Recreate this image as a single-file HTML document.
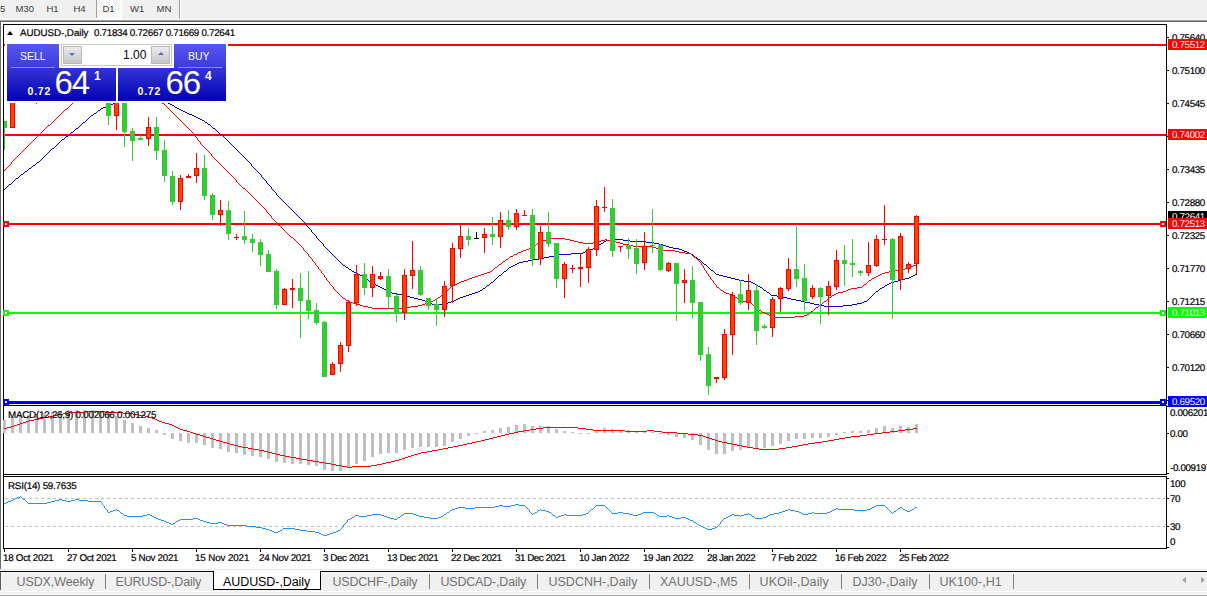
<!DOCTYPE html>
<html><head><meta charset="utf-8"><title>AUDUSD-,Daily</title>
<style>
html,body{margin:0;padding:0;}
body{width:1207px;height:596px;overflow:hidden;background:#fff;position:relative;font-family:"Liberation Sans",sans-serif;}
div{position:absolute;box-sizing:border-box;white-space:nowrap;}
.ax{font-size:9.8px;line-height:12px;height:12px;color:#000;-webkit-text-stroke:0.2px #000;letter-spacing:-0.35px;transform:rotate(0.03deg);transform-origin:0 9px;}
.tag{left:1168px;width:39px;color:#fff;font-size:9.8px;letter-spacing:-0.35px;}
.tag span{position:absolute;left:4px;top:0px;line-height:11px;transform:rotate(0.03deg);transform-origin:0 9px;}
.tbt{font-size:9.5px;color:#383838;top:1.7px;line-height:14px;letter-spacing:0px;}
.tab{top:575px;font-size:12.5px;line-height:15px;color:#707070;letter-spacing:-0.2px;}
.sep{top:574px;width:1px;height:15px;background:#808080;}
</style></head><body>
<!-- toolbar -->
<div style="left:0;top:0;width:1207px;height:19px;background:#f0f0f0"></div>
<div style="left:0;top:19px;width:1207px;height:1px;background:#fafafa"></div>
<div style="left:0;top:20px;width:1207px;height:1px;background:#a0a0a0"></div>
<div style="left:0;top:21px;width:1207px;height:1px;background:#696969"></div>
<div style="left:0;top:21px;width:1px;height:548px;background:#696969"></div>
<div style="left:96px;top:0;width:26px;height:19px;background:#fff"></div>
<div style="left:97px;top:0;width:24px;height:18px;background:repeating-conic-gradient(#fff 0% 25%, #f0f0f0 0% 50%) 0 0/2px 2px"></div>
<div style="left:96px;top:0;width:1px;height:18px;background:#a0a0a0"></div>
<div style="left:179px;top:0;width:1px;height:19px;background:#a0a0a0"></div>
<div style="left:180px;top:0;width:1px;height:19px;background:#fff"></div>
<div class="tbt" style="left:0px">5</div>
<div class="tbt" style="left:15.5px">M30</div>
<div class="tbt" style="left:46.5px">H1</div>
<div class="tbt" style="left:73.5px">H4</div>
<div class="tbt" style="left:102.5px">D1</div>
<div class="tbt" style="left:130px">W1</div>
<div class="tbt" style="left:156.5px">MN</div>
<svg width="1207" height="596" viewBox="0 0 1207 596" shape-rendering="crispEdges" style="position:absolute;left:0;top:0">
<g fill="#000">
<rect x="3" y="24" width="1164" height="1"/>
<rect x="3" y="24" width="1" height="525"/>
<rect x="1166" y="24" width="1" height="380"/>
<rect x="1166" y="405" width="1" height="70"/>
<rect x="1166" y="476" width="1" height="73"/>
<rect x="3" y="403" width="1164" height="1"/>
<rect x="3" y="405" width="1164" height="1"/>
<rect x="3" y="474" width="1164" height="1"/>
<rect x="3" y="476" width="1164" height="1"/>
<rect x="3" y="548" width="1164" height="1"/>
<rect x="1167" y="37" width="2" height="1"/>
<rect x="1167" y="70" width="2" height="1"/>
<rect x="1167" y="103" width="2" height="1"/>
<rect x="1167" y="136" width="2" height="1"/>
<rect x="1167" y="169" width="2" height="1"/>
<rect x="1167" y="202" width="2" height="1"/>
<rect x="1167" y="235" width="2" height="1"/>
<rect x="1167" y="268" width="2" height="1"/>
<rect x="1167" y="301" width="2" height="1"/>
<rect x="1167" y="334" width="2" height="1"/>
<rect x="1167" y="367" width="2" height="1"/>
<rect x="1167" y="400" width="2" height="1"/>
<rect x="1167" y="433" width="2" height="1"/>
<rect x="1167" y="406" width="2" height="1"/>
<rect x="1167" y="473" width="2" height="1"/>
<rect x="1167" y="478" width="2" height="1"/>
<rect x="1167" y="498" width="2" height="1"/>
<rect x="1167" y="526" width="2" height="1"/>
<rect x="1167" y="547" width="2" height="1"/>
<rect x="4" y="549" width="1" height="3"/>
<rect x="68" y="549" width="1" height="3"/>
<rect x="132" y="549" width="1" height="3"/>
<rect x="196" y="549" width="1" height="3"/>
<rect x="260" y="549" width="1" height="3"/>
<rect x="324" y="549" width="1" height="3"/>
<rect x="388" y="549" width="1" height="3"/>
<rect x="452" y="549" width="1" height="3"/>
<rect x="516" y="549" width="1" height="3"/>
<rect x="580" y="549" width="1" height="3"/>
<rect x="644" y="549" width="1" height="3"/>
<rect x="708" y="549" width="1" height="3"/>
<rect x="772" y="549" width="1" height="3"/>
<rect x="836" y="549" width="1" height="3"/>
<rect x="900" y="549" width="1" height="3"/>
</g>
<clipPath id="c1"><rect x="4" y="25" width="1162" height="378"/></clipPath>
<rect x="4" y="44" width="1162" height="2" fill="#ff0000"/>
<rect x="4" y="134" width="1162" height="2" fill="#ff0000"/>
<rect x="4" y="223" width="1162" height="2" fill="#ff0000"/><rect x="3" y="221" width="6" height="6" fill="#ff0000"/><rect x="5" y="223" width="2" height="2" fill="#fff"/><rect x="1160" y="221" width="6" height="6" fill="#ff0000"/><rect x="1162" y="223" width="2" height="2" fill="#fff"/>
<rect x="4" y="312" width="1162" height="2" fill="#00ff00"/><rect x="3" y="310" width="6" height="6" fill="#00ff00"/><rect x="5" y="312" width="2" height="2" fill="#fff"/><rect x="1160" y="310" width="6" height="6" fill="#00ff00"/><rect x="1162" y="312" width="2" height="2" fill="#fff"/>
<rect x="4" y="401" width="1162" height="2" fill="#0000ff"/><rect x="3" y="399" width="6" height="6" fill="#0000ff"/><rect x="5" y="401" width="2" height="2" fill="#fff"/><rect x="1160" y="399" width="6" height="6" fill="#0000ff"/><rect x="1162" y="401" width="2" height="2" fill="#fff"/>
<g clip-path="url(#c1)">
<path d="M4 189h1v1h-1zM5 188h1v1h-1zM6 187h1v1h-1zM7 186h1v1h-1zM8 185h1v1h-1zM9 184h1v1h-1zM10 184h1v1h-1zM11 183h1v1h-1zM12 182h1v1h-1zM13 181h1v1h-1zM14 180h1v1h-1zM15 179h1v1h-1zM16 178h1v1h-1zM17 178h1v1h-1zM18 177h1v1h-1zM19 176h1v1h-1zM20 175h1v1h-1zM21 174h1v1h-1zM22 174h1v1h-1zM23 173h1v1h-1zM24 172h1v1h-1zM25 171h1v1h-1zM26 171h1v1h-1zM27 170h1v1h-1zM28 169h1v1h-1zM29 168h1v1h-1zM30 168h1v1h-1zM31 167h1v1h-1zM32 166h1v1h-1zM33 165h1v1h-1zM34 165h1v1h-1zM35 164h1v1h-1zM36 163h1v1h-1zM37 162h1v1h-1zM38 162h1v1h-1zM39 161h1v1h-1zM40 160h1v1h-1zM41 159h1v1h-1zM42 158h1v1h-1zM43 157h1v1h-1zM44 156h1v1h-1zM45 155h1v1h-1zM46 154h1v1h-1zM47 153h1v1h-1zM48 152h1v1h-1zM49 151h1v1h-1zM50 150h1v1h-1zM51 149h1v1h-1zM52 148h1v1h-1zM53 148h1v1h-1zM54 147h1v1h-1zM55 146h1v1h-1zM56 145h1v1h-1zM57 144h1v1h-1zM58 143h1v1h-1zM59 142h1v1h-1zM60 141h1v1h-1zM61 140h1v1h-1zM62 139h1v1h-1zM63 139h1v1h-1zM64 138h1v1h-1zM65 137h1v1h-1zM66 136h1v1h-1zM67 136h1v1h-1zM68 135h1v1h-1zM69 134h1v1h-1zM70 133h1v1h-1zM71 132h1v1h-1zM72 132h1v1h-1zM73 131h1v1h-1zM74 130h1v1h-1zM75 129h1v1h-1zM76 128h1v1h-1zM77 128h1v1h-1zM78 127h1v1h-1zM79 126h1v1h-1zM80 125h1v1h-1zM81 124h1v1h-1zM82 123h1v1h-1zM83 122h1v1h-1zM84 122h1v1h-1zM85 121h1v1h-1zM86 120h1v1h-1zM87 119h1v1h-1zM88 118h1v1h-1zM89 117h1v1h-1zM90 116h1v1h-1zM91 115h1v1h-1zM92 115h1v1h-1zM93 114h1v1h-1zM94 113h1v1h-1zM95 113h1v1h-1zM96 112h1v1h-1zM97 111h1v1h-1zM98 110h1v1h-1zM99 110h1v1h-1zM100 109h1v1h-1zM101 108h1v1h-1zM102 108h1v1h-1zM103 107h1v1h-1zM104 107h1v1h-1zM105 107h1v1h-1zM106 106h1v1h-1zM107 106h1v1h-1zM108 105h1v1h-1zM109 105h1v1h-1zM110 104h1v1h-1zM111 104h1v1h-1zM112 104h1v1h-1zM113 103h1v1h-1zM114 102h1v1h-1zM115 102h1v1h-1zM116 101h1v1h-1zM117 101h1v1h-1zM118 100h1v1h-1zM119 99h1v1h-1zM120 99h1v1h-1zM121 98h1v1h-1zM122 98h1v1h-1zM123 97h1v1h-1zM124 96h1v1h-1zM125 96h1v1h-1zM126 96h1v1h-1zM127 96h1v1h-1zM128 95h1v1h-1zM129 95h1v1h-1zM130 95h1v1h-1zM131 95h1v1h-1zM132 94h1v1h-1zM133 94h1v1h-1zM134 94h1v1h-1zM135 94h1v1h-1zM136 94h1v1h-1zM137 94h1v1h-1zM138 93h1v1h-1zM139 93h1v1h-1zM140 93h1v1h-1zM141 93h1v1h-1zM142 93h1v1h-1zM143 94h1v1h-1zM144 94h1v1h-1zM145 94h1v1h-1zM146 94h1v1h-1zM147 94h1v1h-1zM148 94h1v1h-1zM149 95h1v1h-1zM150 95h1v1h-1zM151 95h1v1h-1zM152 95h1v1h-1zM153 96h1v1h-1zM154 96h1v1h-1zM155 96h1v1h-1zM156 96h1v1h-1zM157 97h1v1h-1zM158 97h1v1h-1zM159 98h1v1h-1zM160 98h1v1h-1zM161 99h1v1h-1zM162 100h1v1h-1zM163 100h1v1h-1zM164 101h1v1h-1zM165 101h1v1h-1zM166 102h1v1h-1zM167 102h1v1h-1zM168 103h1v1h-1zM169 103h1v1h-1zM170 104h1v1h-1zM171 104h1v1h-1zM172 105h1v1h-1zM173 105h1v1h-1zM174 106h1v1h-1zM175 107h1v1h-1zM176 107h1v1h-1zM177 108h1v1h-1zM178 108h1v1h-1zM179 109h1v1h-1zM180 109h1v1h-1zM181 110h1v1h-1zM182 110h1v1h-1zM183 111h1v1h-1zM184 111h1v1h-1zM185 112h1v1h-1zM186 112h1v1h-1zM187 113h1v1h-1zM188 113h1v1h-1zM189 114h1v1h-1zM190 114h1v1h-1zM191 114h1v1h-1zM192 115h1v1h-1zM193 115h1v1h-1zM194 116h1v1h-1zM195 116h1v1h-1zM196 117h1v1h-1zM197 117h1v1h-1zM198 118h1v1h-1zM199 118h1v1h-1zM200 119h1v1h-1zM201 119h1v1h-1zM202 120h1v1h-1zM203 120h1v1h-1zM204 121h1v1h-1zM205 122h1v1h-1zM206 122h1v1h-1zM207 123h1v1h-1zM208 124h1v1h-1zM209 124h1v1h-1zM210 125h1v1h-1zM211 126h1v1h-1zM212 127h1v1h-1zM213 128h1v1h-1zM214 128h1v1h-1zM215 129h1v1h-1zM216 130h1v1h-1zM217 131h1v1h-1zM218 132h1v1h-1zM219 133h1v1h-1zM220 134h1v1h-1zM221 134h1v1h-1zM222 135h1v1h-1zM223 136h1v1h-1zM224 137h1v1h-1zM225 138h1v1h-1zM226 139h1v1h-1zM227 140h1v1h-1zM228 141h1v1h-1zM229 142h1v1h-1zM230 143h1v1h-1zM231 144h1v1h-1zM232 145h1v1h-1zM233 146h1v1h-1zM234 147h1v1h-1zM235 148h1v1h-1zM236 149h1v1h-1zM237 150h1v1h-1zM238 151h1v1h-1zM239 152h1v1h-1zM240 153h1v1h-1zM241 154h1v1h-1zM242 155h1v1h-1zM243 156h1v1h-1zM244 157h1v1h-1zM245 158h1v1h-1zM246 159h1v1h-1zM247 160h1v1h-1zM248 161h1v1h-1zM249 162h1v1h-1zM250 163h1v1h-1zM251 164h1v2h-1zM252 166h1v1h-1zM253 167h1v1h-1zM254 168h1v1h-1zM255 169h1v1h-1zM256 170h1v1h-1zM257 171h1v1h-1zM258 172h1v1h-1zM259 173h1v1h-1zM260 174h1v1h-1zM261 175h1v2h-1zM262 177h1v1h-1zM263 178h1v1h-1zM264 179h1v1h-1zM265 180h1v1h-1zM266 181h1v2h-1zM267 183h1v1h-1zM268 184h1v1h-1zM269 185h1v1h-1zM270 186h1v1h-1zM271 187h1v2h-1zM272 189h1v1h-1zM273 190h1v1h-1zM274 191h1v1h-1zM275 192h1v1h-1zM276 193h1v2h-1zM277 195h1v1h-1zM278 196h1v1h-1zM279 197h1v1h-1zM280 198h1v1h-1zM281 199h1v1h-1zM282 200h1v1h-1zM283 201h1v1h-1zM284 202h1v1h-1zM285 203h1v1h-1zM286 204h1v1h-1zM287 205h1v1h-1zM288 206h1v1h-1zM289 207h1v1h-1zM290 208h1v1h-1zM291 209h1v1h-1zM292 210h1v1h-1zM293 211h1v1h-1zM294 212h1v1h-1zM295 213h1v1h-1zM296 214h1v1h-1zM297 215h1v1h-1zM298 216h1v1h-1zM299 217h1v1h-1zM300 218h1v1h-1zM301 219h1v1h-1zM302 220h1v1h-1zM303 221h1v1h-1zM304 222h1v1h-1zM305 223h1v2h-1zM306 225h1v1h-1zM307 226h1v1h-1zM308 227h1v1h-1zM309 228h1v1h-1zM310 229h1v1h-1zM311 230h1v2h-1zM312 232h1v1h-1zM313 233h1v1h-1zM314 234h1v1h-1zM315 235h1v1h-1zM316 236h1v2h-1zM317 238h1v1h-1zM318 239h1v1h-1zM319 240h1v1h-1zM320 241h1v1h-1zM321 242h1v1h-1zM322 243h1v1h-1zM323 244h1v2h-1zM324 246h1v1h-1zM325 247h1v1h-1zM326 248h1v1h-1zM327 249h1v1h-1zM328 250h1v1h-1zM329 251h1v1h-1zM330 252h1v1h-1zM331 253h1v1h-1zM332 254h1v1h-1zM333 255h1v1h-1zM334 256h1v1h-1zM335 257h1v1h-1zM336 258h1v1h-1zM337 259h1v1h-1zM338 260h1v1h-1zM339 261h1v1h-1zM340 262h1v1h-1zM341 263h1v1h-1zM342 264h1v1h-1zM343 265h1v1h-1zM344 265h1v1h-1zM345 266h1v1h-1zM346 267h1v1h-1zM347 267h1v1h-1zM348 268h1v1h-1zM349 269h1v1h-1zM350 269h1v1h-1zM351 270h1v1h-1zM352 271h1v1h-1zM353 271h1v1h-1zM354 272h1v1h-1zM355 272h1v1h-1zM356 273h1v1h-1zM357 273h1v1h-1zM358 274h1v1h-1zM359 274h1v1h-1zM360 275h1v1h-1zM361 275h1v1h-1zM362 276h1v1h-1zM363 276h1v1h-1zM364 277h1v1h-1zM365 278h1v1h-1zM366 279h1v1h-1zM367 279h1v1h-1zM368 280h1v1h-1zM369 281h1v1h-1zM370 281h1v1h-1zM371 282h1v1h-1zM372 283h1v1h-1zM373 283h1v1h-1zM374 284h1v1h-1zM375 284h1v1h-1zM376 285h1v1h-1zM377 285h1v1h-1zM378 286h1v1h-1zM379 286h1v1h-1zM380 287h1v1h-1zM381 287h1v1h-1zM382 288h1v1h-1zM383 288h1v1h-1zM384 289h1v1h-1zM385 289h1v1h-1zM386 290h1v1h-1zM387 290h1v1h-1zM388 291h1v1h-1zM389 291h1v1h-1zM390 292h1v1h-1zM391 292h1v1h-1zM392 293h1v1h-1zM393 293h1v1h-1zM394 293h1v1h-1zM395 293h1v1h-1zM396 293h1v1h-1zM397 294h1v1h-1zM398 294h1v1h-1zM399 294h1v1h-1zM400 294h1v1h-1zM401 294h1v1h-1zM402 295h1v1h-1zM403 295h1v1h-1zM404 295h1v1h-1zM405 295h1v1h-1zM406 296h1v1h-1zM407 296h1v1h-1zM408 296h1v1h-1zM409 296h1v1h-1zM410 297h1v1h-1zM411 297h1v1h-1zM412 297h1v1h-1zM413 297h1v1h-1zM414 298h1v1h-1zM415 298h1v1h-1zM416 298h1v1h-1zM417 298h1v1h-1zM418 299h1v1h-1zM419 299h1v1h-1zM420 299h1v1h-1zM421 299h1v1h-1zM422 300h1v1h-1zM423 300h1v1h-1zM424 300h1v1h-1zM425 301h1v1h-1zM426 301h1v1h-1zM427 302h1v1h-1zM428 302h1v1h-1zM429 302h1v1h-1zM430 303h1v1h-1zM431 303h1v1h-1zM432 304h1v1h-1zM433 304h1v1h-1zM434 304h1v1h-1zM435 304h1v1h-1zM436 304h1v1h-1zM437 304h1v1h-1zM438 304h1v1h-1zM439 304h1v1h-1zM440 304h1v1h-1zM441 304h1v1h-1zM442 304h1v1h-1zM443 304h1v1h-1zM444 303h1v1h-1zM445 303h1v1h-1zM446 303h1v1h-1zM447 303h1v1h-1zM448 302h1v1h-1zM449 302h1v1h-1zM450 302h1v1h-1zM451 301h1v1h-1zM452 301h1v1h-1zM453 301h1v1h-1zM454 300h1v1h-1zM455 300h1v1h-1zM456 299h1v1h-1zM457 299h1v1h-1zM458 298h1v1h-1zM459 298h1v1h-1zM460 297h1v1h-1zM461 297h1v1h-1zM462 297h1v1h-1zM463 296h1v1h-1zM464 296h1v1h-1zM465 296h1v1h-1zM466 295h1v1h-1zM467 295h1v1h-1zM468 295h1v1h-1zM469 294h1v1h-1zM470 294h1v1h-1zM471 294h1v1h-1zM472 293h1v1h-1zM473 293h1v1h-1zM474 293h1v1h-1zM475 292h1v1h-1zM476 292h1v1h-1zM477 292h1v1h-1zM478 291h1v1h-1zM479 291h1v1h-1zM480 290h1v1h-1zM481 290h1v1h-1zM482 289h1v1h-1zM483 288h1v1h-1zM484 288h1v1h-1zM485 287h1v1h-1zM486 286h1v1h-1zM487 285h1v1h-1zM488 285h1v1h-1zM489 284h1v1h-1zM490 283h1v1h-1zM491 282h1v1h-1zM492 282h1v1h-1zM493 281h1v1h-1zM494 280h1v1h-1zM495 279h1v1h-1zM496 278h1v1h-1zM497 277h1v1h-1zM498 276h1v1h-1zM499 275h1v1h-1zM500 275h1v1h-1zM501 274h1v1h-1zM502 273h1v1h-1zM503 272h1v1h-1zM504 271h1v1h-1zM505 271h1v1h-1zM506 270h1v1h-1zM507 269h1v1h-1zM508 268h1v1h-1zM509 267h1v1h-1zM510 267h1v1h-1zM511 266h1v1h-1zM512 266h1v1h-1zM513 265h1v1h-1zM514 265h1v1h-1zM515 264h1v1h-1zM516 264h1v1h-1zM517 263h1v1h-1zM518 263h1v1h-1zM519 262h1v1h-1zM520 262h1v1h-1zM521 262h1v1h-1zM522 262h1v1h-1zM523 261h1v1h-1zM524 261h1v1h-1zM525 261h1v1h-1zM526 261h1v1h-1zM527 261h1v1h-1zM528 260h1v1h-1zM529 260h1v1h-1zM530 260h1v1h-1zM531 260h1v1h-1zM532 260h1v1h-1zM533 259h1v1h-1zM534 259h1v1h-1zM535 259h1v1h-1zM536 259h1v1h-1zM537 259h1v1h-1zM538 259h1v1h-1zM539 258h1v1h-1zM540 258h1v1h-1zM541 258h1v1h-1zM542 258h1v1h-1zM543 258h1v1h-1zM544 257h1v1h-1zM545 257h1v1h-1zM546 257h1v1h-1zM547 257h1v1h-1zM548 257h1v1h-1zM549 256h1v1h-1zM550 256h1v1h-1zM551 256h1v1h-1zM552 256h1v1h-1zM553 256h1v1h-1zM554 255h1v1h-1zM555 255h1v1h-1zM556 255h1v1h-1zM557 255h1v1h-1zM558 255h1v1h-1zM559 254h1v1h-1zM560 254h1v1h-1zM561 254h1v1h-1zM562 254h1v1h-1zM563 254h1v1h-1zM564 254h1v1h-1zM565 254h1v1h-1zM566 254h1v1h-1zM567 254h1v1h-1zM568 254h1v1h-1zM569 254h1v1h-1zM570 254h1v1h-1zM571 253h1v1h-1zM572 253h1v1h-1zM573 253h1v1h-1zM574 253h1v1h-1zM575 253h1v1h-1zM576 253h1v1h-1zM577 253h1v1h-1zM578 253h1v1h-1zM579 253h1v1h-1zM580 253h1v1h-1zM581 253h1v1h-1zM582 253h1v1h-1zM583 252h1v1h-1zM584 252h1v1h-1zM585 251h1v1h-1zM586 251h1v1h-1zM587 251h1v1h-1zM588 250h1v1h-1zM589 250h1v1h-1zM590 250h1v1h-1zM591 249h1v1h-1zM592 249h1v1h-1zM593 248h1v1h-1zM594 247h1v1h-1zM595 247h1v1h-1zM596 246h1v1h-1zM597 246h1v1h-1zM598 245h1v1h-1zM599 244h1v1h-1zM600 244h1v1h-1zM601 243h1v1h-1zM602 243h1v1h-1zM603 242h1v1h-1zM604 241h1v1h-1zM605 241h1v1h-1zM606 240h1v1h-1zM607 240h1v1h-1zM608 240h1v1h-1zM609 240h1v1h-1zM610 240h1v1h-1zM611 240h1v1h-1zM612 240h1v1h-1zM613 240h1v1h-1zM614 239h1v1h-1zM615 239h1v1h-1zM616 239h1v1h-1zM617 239h1v1h-1zM618 239h1v1h-1zM619 239h1v1h-1zM620 239h1v1h-1zM621 239h1v1h-1zM622 239h1v1h-1zM623 240h1v1h-1zM624 240h1v1h-1zM625 240h1v1h-1zM626 240h1v1h-1zM627 240h1v1h-1zM628 240h1v1h-1zM629 240h1v1h-1zM630 241h1v1h-1zM631 241h1v1h-1zM632 241h1v1h-1zM633 241h1v1h-1zM634 241h1v1h-1zM635 241h1v1h-1zM636 241h1v1h-1zM637 241h1v1h-1zM638 241h1v1h-1zM639 241h1v1h-1zM640 241h1v1h-1zM641 241h1v1h-1zM642 241h1v1h-1zM643 241h1v1h-1zM644 241h1v1h-1zM645 241h1v1h-1zM646 242h1v1h-1zM647 242h1v1h-1zM648 242h1v1h-1zM649 242h1v1h-1zM650 242h1v1h-1zM651 242h1v1h-1zM652 242h1v1h-1zM653 242h1v1h-1zM654 243h1v1h-1zM655 243h1v1h-1zM656 243h1v1h-1zM657 243h1v1h-1zM658 243h1v1h-1zM659 244h1v1h-1zM660 244h1v1h-1zM661 244h1v1h-1zM662 244h1v1h-1zM663 245h1v1h-1zM664 245h1v1h-1zM665 245h1v1h-1zM666 246h1v1h-1zM667 246h1v1h-1zM668 246h1v1h-1zM669 247h1v1h-1zM670 247h1v1h-1zM671 247h1v1h-1zM672 247h1v1h-1zM673 248h1v1h-1zM674 248h1v1h-1zM675 248h1v1h-1zM676 248h1v1h-1zM677 248h1v1h-1zM678 248h1v1h-1zM679 249h1v1h-1zM680 249h1v1h-1zM681 249h1v1h-1zM682 250h1v1h-1zM683 250h1v1h-1zM684 251h1v1h-1zM685 251h1v1h-1zM686 251h1v1h-1zM687 252h1v1h-1zM688 252h1v1h-1zM689 253h1v1h-1zM690 253h1v1h-1zM691 254h1v1h-1zM692 254h1v1h-1zM693 255h1v1h-1zM694 256h1v1h-1zM695 257h1v1h-1zM696 257h1v1h-1zM697 258h1v1h-1zM698 259h1v1h-1zM699 259h1v1h-1zM700 260h1v1h-1zM701 261h1v1h-1zM702 262h1v1h-1zM703 263h1v1h-1zM704 264h1v1h-1zM705 264h1v1h-1zM706 265h1v1h-1zM707 266h1v1h-1zM708 267h1v1h-1zM709 268h1v1h-1zM710 269h1v1h-1zM711 270h1v1h-1zM712 270h1v1h-1zM713 271h1v1h-1zM714 272h1v1h-1zM715 273h1v1h-1zM716 274h1v1h-1zM717 274h1v1h-1zM718 274h1v1h-1zM719 275h1v1h-1zM720 275h1v1h-1zM721 275h1v1h-1zM722 275h1v1h-1zM723 276h1v1h-1zM724 276h1v1h-1zM725 276h1v1h-1zM726 276h1v1h-1zM727 277h1v1h-1zM728 277h1v1h-1zM729 277h1v1h-1zM730 277h1v1h-1zM731 278h1v1h-1zM732 278h1v1h-1zM733 278h1v1h-1zM734 278h1v1h-1zM735 279h1v1h-1zM736 279h1v1h-1zM737 279h1v1h-1zM738 279h1v1h-1zM739 280h1v1h-1zM740 280h1v1h-1zM741 280h1v1h-1zM742 280h1v1h-1zM743 280h1v1h-1zM744 281h1v1h-1zM745 281h1v1h-1zM746 281h1v1h-1zM747 281h1v1h-1zM748 281h1v1h-1zM749 281h1v1h-1zM750 281h1v1h-1zM751 282h1v1h-1zM752 282h1v1h-1zM753 283h1v1h-1zM754 283h1v1h-1zM755 284h1v1h-1zM756 285h1v1h-1zM757 285h1v1h-1zM758 286h1v1h-1zM759 286h1v1h-1zM760 287h1v1h-1zM761 287h1v1h-1zM762 288h1v1h-1zM763 289h1v1h-1zM764 290h1v1h-1zM765 290h1v1h-1zM766 291h1v1h-1zM767 292h1v1h-1zM768 292h1v1h-1zM769 293h1v1h-1zM770 294h1v1h-1zM771 295h1v1h-1zM772 295h1v1h-1zM773 295h1v1h-1zM774 295h1v1h-1zM775 295h1v1h-1zM776 295h1v1h-1zM777 296h1v1h-1zM778 296h1v1h-1zM779 296h1v1h-1zM780 296h1v1h-1zM781 296h1v1h-1zM782 296h1v1h-1zM783 297h1v1h-1zM784 297h1v1h-1zM785 297h1v1h-1zM786 297h1v1h-1zM787 298h1v1h-1zM788 298h1v1h-1zM789 298h1v1h-1zM790 298h1v1h-1zM791 299h1v1h-1zM792 299h1v1h-1zM793 299h1v1h-1zM794 299h1v1h-1zM795 299h1v1h-1zM796 300h1v1h-1zM797 300h1v1h-1zM798 300h1v1h-1zM799 300h1v1h-1zM800 300h1v1h-1zM801 301h1v1h-1zM802 301h1v1h-1zM803 301h1v1h-1zM804 301h1v1h-1zM805 302h1v1h-1zM806 302h1v1h-1zM807 302h1v1h-1zM808 302h1v1h-1zM809 302h1v1h-1zM810 303h1v1h-1zM811 303h1v1h-1zM812 303h1v1h-1zM813 303h1v1h-1zM814 304h1v1h-1zM815 304h1v1h-1zM816 304h1v1h-1zM817 304h1v1h-1zM818 304h1v1h-1zM819 305h1v1h-1zM820 305h1v1h-1zM821 305h1v1h-1zM822 305h1v1h-1zM823 305h1v1h-1zM824 306h1v1h-1zM825 306h1v1h-1zM826 306h1v1h-1zM827 306h1v1h-1zM828 306h1v1h-1zM829 306h1v1h-1zM830 306h1v1h-1zM831 306h1v1h-1zM832 306h1v1h-1zM833 306h1v1h-1zM834 306h1v1h-1zM835 306h1v1h-1zM836 306h1v1h-1zM837 306h1v1h-1zM838 306h1v1h-1zM839 306h1v1h-1zM840 306h1v1h-1zM841 306h1v1h-1zM842 306h1v1h-1zM843 305h1v1h-1zM844 305h1v1h-1zM845 305h1v1h-1zM846 305h1v1h-1zM847 305h1v1h-1zM848 305h1v1h-1zM849 305h1v1h-1zM850 305h1v1h-1zM851 305h1v1h-1zM852 304h1v1h-1zM853 304h1v1h-1zM854 304h1v1h-1zM855 304h1v1h-1zM856 304h1v1h-1zM857 303h1v1h-1zM858 303h1v1h-1zM859 303h1v1h-1zM860 303h1v1h-1zM861 303h1v1h-1zM862 302h1v1h-1zM863 302h1v1h-1zM864 301h1v1h-1zM865 301h1v1h-1zM866 301h1v1h-1zM867 300h1v1h-1zM868 299h1v1h-1zM869 298h1v1h-1zM870 297h1v1h-1zM871 296h1v1h-1zM872 295h1v1h-1zM873 294h1v1h-1zM874 293h1v1h-1zM875 292h1v1h-1zM876 291h1v1h-1zM877 291h1v1h-1zM878 290h1v1h-1zM879 289h1v1h-1zM880 288h1v1h-1zM881 288h1v1h-1zM882 287h1v1h-1zM883 287h1v1h-1zM884 286h1v1h-1zM885 285h1v1h-1zM886 285h1v1h-1zM887 284h1v1h-1zM888 284h1v1h-1zM889 283h1v1h-1zM890 283h1v1h-1zM891 282h1v1h-1zM892 282h1v1h-1zM893 282h1v1h-1zM894 281h1v1h-1zM895 281h1v1h-1zM896 281h1v1h-1zM897 281h1v1h-1zM898 280h1v1h-1zM899 280h1v1h-1zM900 280h1v1h-1zM901 279h1v1h-1zM902 279h1v1h-1zM903 279h1v1h-1zM904 279h1v1h-1zM905 278h1v1h-1zM906 278h1v1h-1zM907 278h1v1h-1zM908 278h1v1h-1zM909 277h1v1h-1zM910 277h1v1h-1zM911 276h1v1h-1zM912 276h1v1h-1zM913 275h1v1h-1zM914 275h1v1h-1zM915 274h1v1h-1zM916 274h1v1h-1z" fill="#0000cd"/>
<path d="M4 170h1v1h-1zM5 169h1v1h-1zM6 168h1v1h-1zM7 167h1v1h-1zM8 166h1v1h-1zM9 165h1v1h-1zM10 164h1v1h-1zM11 162h1v2h-1zM12 161h1v1h-1zM13 160h1v1h-1zM14 159h1v1h-1zM15 158h1v1h-1zM16 157h1v1h-1zM17 156h1v1h-1zM18 155h1v1h-1zM19 154h1v1h-1zM20 153h1v1h-1zM21 152h1v1h-1zM22 151h1v1h-1zM23 150h1v1h-1zM24 149h1v1h-1zM25 148h1v1h-1zM26 147h1v1h-1zM27 146h1v1h-1zM28 145h1v1h-1zM29 144h1v1h-1zM30 143h1v1h-1zM31 142h1v1h-1zM32 141h1v1h-1zM33 140h1v1h-1zM34 139h1v1h-1zM35 138h1v1h-1zM36 137h1v1h-1zM37 136h1v1h-1zM38 135h1v1h-1zM39 134h1v1h-1zM40 133h1v1h-1zM41 132h1v1h-1zM42 131h1v1h-1zM43 130h1v1h-1zM44 129h1v1h-1zM45 128h1v1h-1zM46 127h1v1h-1zM47 126h1v1h-1zM48 125h1v1h-1zM49 125h1v1h-1zM50 124h1v1h-1zM51 123h1v1h-1zM52 122h1v1h-1zM53 121h1v1h-1zM54 120h1v1h-1zM55 119h1v1h-1zM56 118h1v1h-1zM57 117h1v1h-1zM58 116h1v1h-1zM59 115h1v1h-1zM60 114h1v1h-1zM61 113h1v1h-1zM62 112h1v1h-1zM63 111h1v1h-1zM64 110h1v1h-1zM65 109h1v1h-1zM66 109h1v1h-1zM67 108h1v1h-1zM68 107h1v1h-1zM69 106h1v1h-1zM70 105h1v1h-1zM71 104h1v1h-1zM72 103h1v1h-1zM73 102h1v1h-1zM74 101h1v1h-1zM75 100h1v1h-1zM76 100h1v1h-1zM77 99h1v1h-1zM78 98h1v1h-1zM79 97h1v1h-1zM80 96h1v1h-1zM81 95h1v1h-1zM82 94h1v1h-1zM83 94h1v1h-1zM84 93h1v1h-1zM85 92h1v1h-1zM86 91h1v1h-1zM87 90h1v1h-1zM88 89h1v1h-1zM89 88h1v1h-1zM90 88h1v1h-1zM91 87h1v1h-1zM92 87h1v1h-1zM93 87h1v1h-1zM94 86h1v1h-1zM95 86h1v1h-1zM96 85h1v1h-1zM97 85h1v1h-1zM98 85h1v1h-1zM99 84h1v1h-1zM100 84h1v1h-1zM101 83h1v1h-1zM102 83h1v1h-1zM103 83h1v1h-1zM104 82h1v1h-1zM105 82h1v1h-1zM106 81h1v1h-1zM107 81h1v1h-1zM108 81h1v1h-1zM109 80h1v1h-1zM110 80h1v1h-1zM111 80h1v1h-1zM112 80h1v1h-1zM113 80h1v1h-1zM114 80h1v1h-1zM115 80h1v1h-1zM116 81h1v1h-1zM117 81h1v1h-1zM118 81h1v1h-1zM119 81h1v1h-1zM120 81h1v1h-1zM121 81h1v1h-1zM122 81h1v1h-1zM123 81h1v1h-1zM124 81h1v1h-1zM125 81h1v1h-1zM126 82h1v1h-1zM127 82h1v1h-1zM128 82h1v1h-1zM129 82h1v1h-1zM130 82h1v1h-1zM131 82h1v1h-1zM132 83h1v1h-1zM133 83h1v1h-1zM134 84h1v1h-1zM135 84h1v1h-1zM136 85h1v1h-1zM137 85h1v1h-1zM138 86h1v1h-1zM139 86h1v1h-1zM140 87h1v1h-1zM141 87h1v1h-1zM142 88h1v1h-1zM143 88h1v1h-1zM144 89h1v1h-1zM145 89h1v1h-1zM146 90h1v1h-1zM147 90h1v1h-1zM148 91h1v1h-1zM149 91h1v1h-1zM150 92h1v1h-1zM151 92h1v1h-1zM152 93h1v1h-1zM153 94h1v1h-1zM154 95h1v1h-1zM155 96h1v1h-1zM156 97h1v1h-1zM157 98h1v1h-1zM158 99h1v1h-1zM159 100h1v1h-1zM160 101h1v1h-1zM161 102h1v1h-1zM162 103h1v1h-1zM163 103h1v1h-1zM164 104h1v1h-1zM165 105h1v1h-1zM166 106h1v1h-1zM167 107h1v1h-1zM168 108h1v1h-1zM169 109h1v1h-1zM170 110h1v1h-1zM171 111h1v1h-1zM172 112h1v1h-1zM173 113h1v1h-1zM174 114h1v1h-1zM175 115h1v1h-1zM176 116h1v1h-1zM177 117h1v1h-1zM178 118h1v1h-1zM179 119h1v1h-1zM180 120h1v1h-1zM181 121h1v1h-1zM182 122h1v1h-1zM183 123h1v1h-1zM184 124h1v1h-1zM185 125h1v1h-1zM186 126h1v1h-1zM187 127h1v1h-1zM188 128h1v1h-1zM189 129h1v1h-1zM190 130h1v1h-1zM191 131h1v1h-1zM192 132h1v1h-1zM193 133h1v2h-1zM194 135h1v1h-1zM195 136h1v1h-1zM196 137h1v1h-1zM197 138h1v2h-1zM198 140h1v1h-1zM199 141h1v1h-1zM200 142h1v2h-1zM201 144h1v1h-1zM202 145h1v1h-1zM203 146h1v1h-1zM204 147h1v1h-1zM205 148h1v1h-1zM206 149h1v1h-1zM207 150h1v1h-1zM208 151h1v1h-1zM209 152h1v1h-1zM210 153h1v1h-1zM211 154h1v2h-1zM212 156h1v1h-1zM213 157h1v1h-1zM214 158h1v1h-1zM215 159h1v1h-1zM216 160h1v1h-1zM217 161h1v1h-1zM218 162h1v1h-1zM219 163h1v1h-1zM220 164h1v1h-1zM221 165h1v1h-1zM222 166h1v1h-1zM223 167h1v1h-1zM224 168h1v1h-1zM225 169h1v1h-1zM226 170h1v1h-1zM227 171h1v1h-1zM228 172h1v1h-1zM229 173h1v1h-1zM230 174h1v1h-1zM231 175h1v1h-1zM232 176h1v1h-1zM233 177h1v1h-1zM234 178h1v1h-1zM235 179h1v1h-1zM236 180h1v2h-1zM237 182h1v1h-1zM238 183h1v1h-1zM239 184h1v1h-1zM240 185h1v1h-1zM241 186h1v1h-1zM242 187h1v1h-1zM243 188h1v1h-1zM244 188h1v1h-1zM245 189h1v1h-1zM246 190h1v1h-1zM247 191h1v1h-1zM248 192h1v1h-1zM249 193h1v1h-1zM250 194h1v1h-1zM251 195h1v1h-1zM252 196h1v1h-1zM253 197h1v1h-1zM254 198h1v1h-1zM255 199h1v1h-1zM256 200h1v1h-1zM257 201h1v1h-1zM258 202h1v1h-1zM259 203h1v1h-1zM260 204h1v1h-1zM261 205h1v1h-1zM262 206h1v1h-1zM263 207h1v1h-1zM264 208h1v1h-1zM265 209h1v1h-1zM266 210h1v2h-1zM267 212h1v1h-1zM268 213h1v1h-1zM269 214h1v1h-1zM270 215h1v1h-1zM271 216h1v2h-1zM272 218h1v1h-1zM273 219h1v1h-1zM274 220h1v1h-1zM275 221h1v1h-1zM276 222h1v2h-1zM277 224h1v1h-1zM278 225h1v1h-1zM279 225h1v1h-1zM280 226h1v1h-1zM281 227h1v1h-1zM282 228h1v1h-1zM283 229h1v1h-1zM284 230h1v1h-1zM285 231h1v1h-1zM286 232h1v1h-1zM287 233h1v1h-1zM288 234h1v1h-1zM289 235h1v1h-1zM290 236h1v1h-1zM291 237h1v1h-1zM292 237h1v1h-1zM293 238h1v1h-1zM294 239h1v1h-1zM295 240h1v1h-1zM296 241h1v1h-1zM297 242h1v1h-1zM298 243h1v1h-1zM299 244h1v1h-1zM300 245h1v1h-1zM301 246h1v1h-1zM302 247h1v1h-1zM303 248h1v2h-1zM304 250h1v1h-1zM305 251h1v1h-1zM306 252h1v1h-1zM307 253h1v1h-1zM308 254h1v2h-1zM309 256h1v1h-1zM310 257h1v1h-1zM311 258h1v1h-1zM312 259h1v2h-1zM313 261h1v1h-1zM314 262h1v1h-1zM315 263h1v2h-1zM316 265h1v1h-1zM317 266h1v1h-1zM318 267h1v2h-1zM319 269h1v1h-1zM320 270h1v1h-1zM321 271h1v2h-1zM322 273h1v1h-1zM323 274h1v1h-1zM324 275h1v2h-1zM325 277h1v1h-1zM326 278h1v2h-1zM327 280h1v1h-1zM328 281h1v1h-1zM329 282h1v2h-1zM330 284h1v1h-1zM331 285h1v1h-1zM332 286h1v1h-1zM333 287h1v2h-1zM334 289h1v1h-1zM335 290h1v1h-1zM336 291h1v1h-1zM337 292h1v1h-1zM338 293h1v1h-1zM339 294h1v1h-1zM340 295h1v1h-1zM341 296h1v1h-1zM342 297h1v1h-1zM343 298h1v1h-1zM344 298h1v1h-1zM345 299h1v1h-1zM346 300h1v1h-1zM347 300h1v1h-1zM348 301h1v1h-1zM349 301h1v1h-1zM350 302h1v1h-1zM351 302h1v1h-1zM352 302h1v1h-1zM353 303h1v1h-1zM354 303h1v1h-1zM355 303h1v1h-1zM356 304h1v1h-1zM357 304h1v1h-1zM358 304h1v1h-1zM359 304h1v1h-1zM360 305h1v1h-1zM361 305h1v1h-1zM362 305h1v1h-1zM363 306h1v1h-1zM364 306h1v1h-1zM365 306h1v1h-1zM366 306h1v1h-1zM367 306h1v1h-1zM368 307h1v1h-1zM369 307h1v1h-1zM370 307h1v1h-1zM371 307h1v1h-1zM372 308h1v1h-1zM373 308h1v1h-1zM374 308h1v1h-1zM375 308h1v1h-1zM376 308h1v1h-1zM377 308h1v1h-1zM378 308h1v1h-1zM379 308h1v1h-1zM380 308h1v1h-1zM381 308h1v1h-1zM382 308h1v1h-1zM383 308h1v1h-1zM384 308h1v1h-1zM385 308h1v1h-1zM386 308h1v1h-1zM387 308h1v1h-1zM388 308h1v1h-1zM389 308h1v1h-1zM390 308h1v1h-1zM391 308h1v1h-1zM392 308h1v1h-1zM393 308h1v1h-1zM394 308h1v1h-1zM395 308h1v1h-1zM396 308h1v1h-1zM397 308h1v1h-1zM398 308h1v1h-1zM399 308h1v1h-1zM400 308h1v1h-1zM401 308h1v1h-1zM402 308h1v1h-1zM403 308h1v1h-1zM404 308h1v1h-1zM405 308h1v1h-1zM406 307h1v1h-1zM407 307h1v1h-1zM408 307h1v1h-1zM409 307h1v1h-1zM410 307h1v1h-1zM411 306h1v1h-1zM412 306h1v1h-1zM413 306h1v1h-1zM414 306h1v1h-1zM415 306h1v1h-1zM416 306h1v1h-1zM417 306h1v1h-1zM418 305h1v1h-1zM419 305h1v1h-1zM420 305h1v1h-1zM421 305h1v1h-1zM422 304h1v1h-1zM423 304h1v1h-1zM424 304h1v1h-1zM425 303h1v1h-1zM426 303h1v1h-1zM427 303h1v1h-1zM428 302h1v1h-1zM429 302h1v1h-1zM430 302h1v1h-1zM431 301h1v1h-1zM432 301h1v1h-1zM433 300h1v1h-1zM434 300h1v1h-1zM435 299h1v1h-1zM436 298h1v1h-1zM437 298h1v1h-1zM438 297h1v1h-1zM439 297h1v1h-1zM440 296h1v1h-1zM441 295h1v1h-1zM442 294h1v1h-1zM443 294h1v1h-1zM444 293h1v1h-1zM445 292h1v1h-1zM446 291h1v1h-1zM447 290h1v1h-1zM448 289h1v1h-1zM449 288h1v1h-1zM450 287h1v1h-1zM451 286h1v1h-1zM452 286h1v1h-1zM453 285h1v1h-1zM454 285h1v1h-1zM455 284h1v1h-1zM456 284h1v1h-1zM457 283h1v1h-1zM458 283h1v1h-1zM459 282h1v1h-1zM460 282h1v1h-1zM461 281h1v1h-1zM462 281h1v1h-1zM463 281h1v1h-1zM464 280h1v1h-1zM465 280h1v1h-1zM466 280h1v1h-1zM467 279h1v1h-1zM468 279h1v1h-1zM469 278h1v1h-1zM470 278h1v1h-1zM471 278h1v1h-1zM472 277h1v1h-1zM473 277h1v1h-1zM474 277h1v1h-1zM475 276h1v1h-1zM476 276h1v1h-1zM477 276h1v1h-1zM478 275h1v1h-1zM479 275h1v1h-1zM480 275h1v1h-1zM481 274h1v1h-1zM482 274h1v1h-1zM483 274h1v1h-1zM484 273h1v1h-1zM485 273h1v1h-1zM486 273h1v1h-1zM487 272h1v1h-1zM488 272h1v1h-1zM489 272h1v1h-1zM490 271h1v1h-1zM491 271h1v1h-1zM492 270h1v1h-1zM493 269h1v1h-1zM494 268h1v1h-1zM495 267h1v1h-1zM496 267h1v1h-1zM497 266h1v1h-1zM498 265h1v1h-1zM499 264h1v1h-1zM500 264h1v1h-1zM501 263h1v1h-1zM502 262h1v1h-1zM503 261h1v1h-1zM504 261h1v1h-1zM505 260h1v1h-1zM506 259h1v1h-1zM507 259h1v1h-1zM508 258h1v1h-1zM509 257h1v1h-1zM510 256h1v1h-1zM511 256h1v1h-1zM512 256h1v1h-1zM513 255h1v1h-1zM514 254h1v1h-1zM515 254h1v1h-1zM516 254h1v1h-1zM517 253h1v1h-1zM518 252h1v1h-1zM519 252h1v1h-1zM520 252h1v1h-1zM521 251h1v1h-1zM522 251h1v1h-1zM523 250h1v1h-1zM524 250h1v1h-1zM525 250h1v1h-1zM526 249h1v1h-1zM527 249h1v1h-1zM528 249h1v1h-1zM529 248h1v1h-1zM530 248h1v1h-1zM531 247h1v1h-1zM532 247h1v1h-1zM533 246h1v1h-1zM534 245h1v1h-1zM535 245h1v1h-1zM536 244h1v1h-1zM537 243h1v1h-1zM538 243h1v1h-1zM539 242h1v1h-1zM540 242h1v1h-1zM541 241h1v1h-1zM542 241h1v1h-1zM543 240h1v1h-1zM544 240h1v1h-1zM545 240h1v1h-1zM546 239h1v1h-1zM547 239h1v1h-1zM548 239h1v1h-1zM549 238h1v1h-1zM550 238h1v1h-1zM551 238h1v1h-1zM552 238h1v1h-1zM553 238h1v1h-1zM554 238h1v1h-1zM555 238h1v1h-1zM556 238h1v1h-1zM557 238h1v1h-1zM558 238h1v1h-1zM559 238h1v1h-1zM560 238h1v1h-1zM561 238h1v1h-1zM562 238h1v1h-1zM563 238h1v1h-1zM564 238h1v1h-1zM565 239h1v1h-1zM566 239h1v1h-1zM567 239h1v1h-1zM568 239h1v1h-1zM569 239h1v1h-1zM570 240h1v1h-1zM571 240h1v1h-1zM572 240h1v1h-1zM573 240h1v1h-1zM574 241h1v1h-1zM575 241h1v1h-1zM576 241h1v1h-1zM577 241h1v1h-1zM578 242h1v1h-1zM579 242h1v1h-1zM580 242h1v1h-1zM581 242h1v1h-1zM582 242h1v1h-1zM583 243h1v1h-1zM584 243h1v1h-1zM585 243h1v1h-1zM586 243h1v1h-1zM587 243h1v1h-1zM588 243h1v1h-1zM589 243h1v1h-1zM590 243h1v1h-1zM591 243h1v1h-1zM592 243h1v1h-1zM593 242h1v1h-1zM594 242h1v1h-1zM595 242h1v1h-1zM596 242h1v1h-1zM597 241h1v1h-1zM598 241h1v1h-1zM599 241h1v1h-1zM600 241h1v1h-1zM601 240h1v1h-1zM602 240h1v1h-1zM603 240h1v1h-1zM604 240h1v1h-1zM605 239h1v1h-1zM606 239h1v1h-1zM607 240h1v1h-1zM608 240h1v1h-1zM609 240h1v1h-1zM610 240h1v1h-1zM611 240h1v1h-1zM612 241h1v1h-1zM613 241h1v1h-1zM614 241h1v1h-1zM615 241h1v1h-1zM616 242h1v1h-1zM617 242h1v1h-1zM618 242h1v1h-1zM619 242h1v1h-1zM620 243h1v1h-1zM621 243h1v1h-1zM622 243h1v1h-1zM623 244h1v1h-1zM624 244h1v1h-1zM625 244h1v1h-1zM626 244h1v1h-1zM627 244h1v1h-1zM628 245h1v1h-1zM629 245h1v1h-1zM630 245h1v1h-1zM631 245h1v1h-1zM632 245h1v1h-1zM633 246h1v1h-1zM634 246h1v1h-1zM635 246h1v1h-1zM636 246h1v1h-1zM637 246h1v1h-1zM638 246h1v1h-1zM639 246h1v1h-1zM640 246h1v1h-1zM641 246h1v1h-1zM642 246h1v1h-1zM643 246h1v1h-1zM644 246h1v1h-1zM645 246h1v1h-1zM646 246h1v1h-1zM647 246h1v1h-1zM648 246h1v1h-1zM649 246h1v1h-1zM650 246h1v1h-1zM651 246h1v1h-1zM652 246h1v1h-1zM653 247h1v1h-1zM654 247h1v1h-1zM655 247h1v1h-1zM656 248h1v1h-1zM657 248h1v1h-1zM658 248h1v1h-1zM659 249h1v1h-1zM660 249h1v1h-1zM661 249h1v1h-1zM662 250h1v1h-1zM663 250h1v1h-1zM664 250h1v1h-1zM665 250h1v1h-1zM666 250h1v1h-1zM667 250h1v1h-1zM668 250h1v1h-1zM669 250h1v1h-1zM670 250h1v1h-1zM671 250h1v1h-1zM672 250h1v1h-1zM673 250h1v1h-1zM674 250h1v1h-1zM675 251h1v1h-1zM676 251h1v1h-1zM677 251h1v1h-1zM678 251h1v1h-1zM679 252h1v1h-1zM680 252h1v1h-1zM681 252h1v1h-1zM682 252h1v1h-1zM683 252h1v1h-1zM684 252h1v1h-1zM685 253h1v1h-1zM686 253h1v1h-1zM687 253h1v1h-1zM688 253h1v1h-1zM689 253h1v1h-1zM690 253h1v1h-1zM691 254h1v1h-1zM692 255h1v1h-1zM693 256h1v1h-1zM694 257h1v1h-1zM695 257h1v1h-1zM696 258h1v1h-1zM697 259h1v1h-1zM698 260h1v1h-1zM699 261h1v1h-1zM700 262h1v1h-1zM701 263h1v2h-1zM702 265h1v1h-1zM703 266h1v2h-1zM704 268h1v2h-1zM705 270h1v1h-1zM706 271h1v2h-1zM707 273h1v1h-1zM708 274h1v2h-1zM709 276h1v1h-1zM710 277h1v2h-1zM711 279h1v1h-1zM712 280h1v1h-1zM713 281h1v2h-1zM714 283h1v1h-1zM715 284h1v1h-1zM716 285h1v2h-1zM717 287h1v1h-1zM718 287h1v1h-1zM719 288h1v1h-1zM720 289h1v1h-1zM721 290h1v1h-1zM722 290h1v1h-1zM723 291h1v1h-1zM724 292h1v1h-1zM725 292h1v1h-1zM726 293h1v1h-1zM727 293h1v1h-1zM728 293h1v1h-1zM729 294h1v1h-1zM730 294h1v1h-1zM731 294h1v1h-1zM732 295h1v1h-1zM733 296h1v1h-1zM734 296h1v1h-1zM735 297h1v1h-1zM736 297h1v1h-1zM737 298h1v1h-1zM738 298h1v1h-1zM739 299h1v1h-1zM740 300h1v1h-1zM741 300h1v1h-1zM742 300h1v1h-1zM743 301h1v1h-1zM744 301h1v1h-1zM745 301h1v1h-1zM746 301h1v1h-1zM747 301h1v1h-1zM748 301h1v1h-1zM749 302h1v1h-1zM750 302h1v1h-1zM751 303h1v1h-1zM752 304h1v1h-1zM753 305h1v1h-1zM754 306h1v1h-1zM755 306h1v1h-1zM756 307h1v1h-1zM757 308h1v1h-1zM758 309h1v1h-1zM759 310h1v1h-1zM760 310h1v1h-1zM761 311h1v1h-1zM762 312h1v1h-1zM763 312h1v1h-1zM764 312h1v1h-1zM765 313h1v1h-1zM766 313h1v1h-1zM767 314h1v1h-1zM768 314h1v1h-1zM769 315h1v1h-1zM770 315h1v1h-1zM771 315h1v1h-1zM772 316h1v1h-1zM773 316h1v1h-1zM774 316h1v1h-1zM775 317h1v1h-1zM776 317h1v1h-1zM777 317h1v1h-1zM778 317h1v1h-1zM779 317h1v1h-1zM780 317h1v1h-1zM781 317h1v1h-1zM782 317h1v1h-1zM783 317h1v1h-1zM784 317h1v1h-1zM785 317h1v1h-1zM786 317h1v1h-1zM787 317h1v1h-1zM788 317h1v1h-1zM789 317h1v1h-1zM790 317h1v1h-1zM791 317h1v1h-1zM792 317h1v1h-1zM793 317h1v1h-1zM794 317h1v1h-1zM795 316h1v1h-1zM796 316h1v1h-1zM797 316h1v1h-1zM798 316h1v1h-1zM799 316h1v1h-1zM800 316h1v1h-1zM801 316h1v1h-1zM802 316h1v1h-1zM803 316h1v1h-1zM804 315h1v1h-1zM805 315h1v1h-1zM806 315h1v1h-1zM807 314h1v1h-1zM808 314h1v1h-1zM809 313h1v1h-1zM810 312h1v1h-1zM811 311h1v1h-1zM812 311h1v1h-1zM813 310h1v1h-1zM814 309h1v1h-1zM815 308h1v1h-1zM816 307h1v1h-1zM817 307h1v1h-1zM818 306h1v1h-1zM819 305h1v1h-1zM820 304h1v1h-1zM821 304h1v1h-1zM822 303h1v1h-1zM823 302h1v1h-1zM824 301h1v1h-1zM825 301h1v1h-1zM826 300h1v1h-1zM827 299h1v1h-1zM828 298h1v1h-1zM829 297h1v1h-1zM830 297h1v1h-1zM831 296h1v1h-1zM832 295h1v1h-1zM833 295h1v1h-1zM834 294h1v1h-1zM835 294h1v1h-1zM836 293h1v1h-1zM837 293h1v1h-1zM838 292h1v1h-1zM839 292h1v1h-1zM840 292h1v1h-1zM841 292h1v1h-1zM842 292h1v1h-1zM843 291h1v1h-1zM844 291h1v1h-1zM845 291h1v1h-1zM846 290h1v1h-1zM847 290h1v1h-1zM848 289h1v1h-1zM849 289h1v1h-1zM850 289h1v1h-1zM851 288h1v1h-1zM852 288h1v1h-1zM853 288h1v1h-1zM854 288h1v1h-1zM855 288h1v1h-1zM856 288h1v1h-1zM857 287h1v1h-1zM858 287h1v1h-1zM859 287h1v1h-1zM860 287h1v1h-1zM861 287h1v1h-1zM862 286h1v1h-1zM863 285h1v1h-1zM864 284h1v1h-1zM865 284h1v1h-1zM866 283h1v1h-1zM867 282h1v1h-1zM868 281h1v1h-1zM869 280h1v1h-1zM870 280h1v1h-1zM871 279h1v1h-1zM872 278h1v1h-1zM873 278h1v1h-1zM874 277h1v1h-1zM875 277h1v1h-1zM876 276h1v1h-1zM877 276h1v1h-1zM878 275h1v1h-1zM879 275h1v1h-1zM880 274h1v1h-1zM881 274h1v1h-1zM882 273h1v1h-1zM883 273h1v1h-1zM884 273h1v1h-1zM885 272h1v1h-1zM886 272h1v1h-1zM887 272h1v1h-1zM888 272h1v1h-1zM889 271h1v1h-1zM890 271h1v1h-1zM891 271h1v1h-1zM892 271h1v1h-1zM893 271h1v1h-1zM894 271h1v1h-1zM895 270h1v1h-1zM896 270h1v1h-1zM897 270h1v1h-1zM898 270h1v1h-1zM899 270h1v1h-1zM900 270h1v1h-1zM901 270h1v1h-1zM902 269h1v1h-1zM903 269h1v1h-1zM904 269h1v1h-1zM905 268h1v1h-1zM906 268h1v1h-1zM907 268h1v1h-1zM908 267h1v1h-1zM909 267h1v1h-1zM910 267h1v1h-1zM911 266h1v1h-1zM912 266h1v1h-1zM913 265h1v1h-1zM914 265h1v1h-1zM915 265h1v1h-1zM916 264h1v1h-1z" fill="#ff0000"/>
<rect x="4" y="121" width="1" height="29" fill="#32cd32"/>
<rect x="2" y="121" width="5" height="7" fill="#32cd32"/>
<rect x="12" y="60" width="1" height="68" fill="#ff0000"/>
<rect x="10" y="60" width="5" height="68" fill="#ff0000"/>
<rect x="11" y="61" width="3" height="66" fill="#ff4500"/>
<rect x="36" y="60" width="1" height="44" fill="#ff0000"/>
<rect x="34" y="60" width="5" height="10" fill="#ff0000"/>
<rect x="35" y="61" width="3" height="8" fill="#ff4500"/>
<rect x="108" y="80" width="1" height="45" fill="#32cd32"/>
<rect x="106" y="80" width="5" height="36" fill="#32cd32"/>
<rect x="116" y="80" width="1" height="50" fill="#ff0000"/>
<rect x="114" y="80" width="5" height="36" fill="#ff0000"/>
<rect x="115" y="81" width="3" height="34" fill="#ff4500"/>
<rect x="124" y="80" width="1" height="67" fill="#32cd32"/>
<rect x="122" y="80" width="5" height="52" fill="#32cd32"/>
<rect x="132" y="128" width="1" height="33" fill="#32cd32"/>
<rect x="130" y="131" width="5" height="10" fill="#32cd32"/>
<rect x="140" y="135" width="1" height="5" fill="#32cd32"/>
<rect x="138" y="138" width="5" height="2" fill="#32cd32"/>
<rect x="148" y="117" width="1" height="29" fill="#ff0000"/>
<rect x="146" y="127" width="5" height="12" fill="#ff0000"/>
<rect x="147" y="128" width="3" height="10" fill="#ff4500"/>
<rect x="156" y="117" width="1" height="43" fill="#32cd32"/>
<rect x="154" y="127" width="5" height="24" fill="#32cd32"/>
<rect x="164" y="140" width="1" height="42" fill="#32cd32"/>
<rect x="162" y="150" width="5" height="26" fill="#32cd32"/>
<rect x="172" y="171" width="1" height="34" fill="#32cd32"/>
<rect x="170" y="176" width="5" height="26" fill="#32cd32"/>
<rect x="180" y="175" width="1" height="35" fill="#ff0000"/>
<rect x="178" y="178" width="5" height="24" fill="#ff0000"/>
<rect x="179" y="179" width="3" height="22" fill="#ff4500"/>
<rect x="188" y="174" width="1" height="4" fill="#ff0000"/>
<rect x="186" y="176" width="5" height="2" fill="#ff0000"/>
<rect x="196" y="153" width="1" height="30" fill="#ff0000"/>
<rect x="194" y="168" width="5" height="8" fill="#ff0000"/>
<rect x="195" y="169" width="3" height="6" fill="#ff4500"/>
<rect x="204" y="155" width="1" height="45" fill="#32cd32"/>
<rect x="202" y="168" width="5" height="28" fill="#32cd32"/>
<rect x="212" y="193" width="1" height="27" fill="#32cd32"/>
<rect x="210" y="195" width="5" height="20" fill="#32cd32"/>
<rect x="220" y="200" width="1" height="26" fill="#ff0000"/>
<rect x="218" y="210" width="5" height="5" fill="#ff0000"/>
<rect x="219" y="211" width="3" height="3" fill="#ff4500"/>
<rect x="228" y="201" width="1" height="39" fill="#32cd32"/>
<rect x="226" y="210" width="5" height="24" fill="#32cd32"/>
<rect x="236" y="234" width="1" height="6" fill="#ff0000"/>
<rect x="234" y="237" width="5" height="1" fill="#ff0000"/>
<rect x="244" y="211" width="1" height="33" fill="#32cd32"/>
<rect x="242" y="236" width="5" height="4" fill="#32cd32"/>
<rect x="252" y="234" width="1" height="18" fill="#32cd32"/>
<rect x="250" y="239" width="5" height="4" fill="#32cd32"/>
<rect x="260" y="239" width="1" height="27" fill="#32cd32"/>
<rect x="258" y="242" width="5" height="13" fill="#32cd32"/>
<rect x="268" y="250" width="1" height="22" fill="#32cd32"/>
<rect x="266" y="254" width="5" height="18" fill="#32cd32"/>
<rect x="276" y="269" width="1" height="40" fill="#32cd32"/>
<rect x="274" y="271" width="5" height="34" fill="#32cd32"/>
<rect x="284" y="288" width="1" height="17" fill="#ff0000"/>
<rect x="282" y="289" width="5" height="16" fill="#ff0000"/>
<rect x="283" y="290" width="3" height="14" fill="#ff4500"/>
<rect x="292" y="279" width="1" height="29" fill="#ff0000"/>
<rect x="290" y="288" width="5" height="2" fill="#ff0000"/>
<rect x="300" y="273" width="1" height="65" fill="#32cd32"/>
<rect x="298" y="288" width="5" height="13" fill="#32cd32"/>
<rect x="308" y="271" width="1" height="48" fill="#32cd32"/>
<rect x="306" y="300" width="5" height="11" fill="#32cd32"/>
<rect x="316" y="303" width="1" height="22" fill="#32cd32"/>
<rect x="314" y="310" width="5" height="13" fill="#32cd32"/>
<rect x="324" y="321" width="1" height="56" fill="#32cd32"/>
<rect x="322" y="322" width="5" height="55" fill="#32cd32"/>
<rect x="332" y="362" width="1" height="13" fill="#ff0000"/>
<rect x="330" y="364" width="5" height="11" fill="#ff0000"/>
<rect x="331" y="365" width="3" height="9" fill="#ff4500"/>
<rect x="340" y="342" width="1" height="30" fill="#ff0000"/>
<rect x="338" y="345" width="5" height="19" fill="#ff0000"/>
<rect x="339" y="346" width="3" height="17" fill="#ff4500"/>
<rect x="348" y="300" width="1" height="52" fill="#ff0000"/>
<rect x="346" y="302" width="5" height="44" fill="#ff0000"/>
<rect x="347" y="303" width="3" height="42" fill="#ff4500"/>
<rect x="356" y="265" width="1" height="41" fill="#ff0000"/>
<rect x="354" y="274" width="5" height="29" fill="#ff0000"/>
<rect x="355" y="275" width="3" height="27" fill="#ff4500"/>
<rect x="364" y="263" width="1" height="32" fill="#32cd32"/>
<rect x="362" y="274" width="5" height="14" fill="#32cd32"/>
<rect x="372" y="266" width="1" height="31" fill="#ff0000"/>
<rect x="370" y="274" width="5" height="14" fill="#ff0000"/>
<rect x="371" y="275" width="3" height="12" fill="#ff4500"/>
<rect x="380" y="272" width="1" height="8" fill="#ff0000"/>
<rect x="378" y="276" width="5" height="3" fill="#ff0000"/>
<rect x="379" y="277" width="3" height="1" fill="#ff4500"/>
<rect x="388" y="269" width="1" height="40" fill="#32cd32"/>
<rect x="386" y="276" width="5" height="21" fill="#32cd32"/>
<rect x="396" y="294" width="1" height="28" fill="#32cd32"/>
<rect x="394" y="296" width="5" height="17" fill="#32cd32"/>
<rect x="404" y="269" width="1" height="51" fill="#ff0000"/>
<rect x="402" y="275" width="5" height="38" fill="#ff0000"/>
<rect x="403" y="276" width="3" height="36" fill="#ff4500"/>
<rect x="412" y="241" width="1" height="48" fill="#ff0000"/>
<rect x="410" y="270" width="5" height="6" fill="#ff0000"/>
<rect x="411" y="271" width="3" height="4" fill="#ff4500"/>
<rect x="420" y="266" width="1" height="30" fill="#32cd32"/>
<rect x="418" y="270" width="5" height="25" fill="#32cd32"/>
<rect x="428" y="298" width="1" height="12" fill="#32cd32"/>
<rect x="426" y="298" width="5" height="8" fill="#32cd32"/>
<rect x="436" y="298" width="1" height="28" fill="#32cd32"/>
<rect x="434" y="304" width="5" height="6" fill="#32cd32"/>
<rect x="444" y="281" width="1" height="36" fill="#ff0000"/>
<rect x="442" y="286" width="5" height="24" fill="#ff0000"/>
<rect x="443" y="287" width="3" height="22" fill="#ff4500"/>
<rect x="452" y="243" width="1" height="60" fill="#ff0000"/>
<rect x="450" y="248" width="5" height="38" fill="#ff0000"/>
<rect x="451" y="249" width="3" height="36" fill="#ff4500"/>
<rect x="460" y="224" width="1" height="34" fill="#ff0000"/>
<rect x="458" y="236" width="5" height="13" fill="#ff0000"/>
<rect x="459" y="237" width="3" height="11" fill="#ff4500"/>
<rect x="468" y="228" width="1" height="18" fill="#32cd32"/>
<rect x="466" y="236" width="5" height="4" fill="#32cd32"/>
<rect x="476" y="232" width="1" height="7" fill="#000000"/>
<rect x="474" y="238" width="5" height="1" fill="#000000"/>
<rect x="484" y="228" width="1" height="25" fill="#ff0000"/>
<rect x="482" y="234" width="5" height="4" fill="#ff0000"/>
<rect x="483" y="235" width="3" height="2" fill="#ff4500"/>
<rect x="492" y="217" width="1" height="28" fill="#32cd32"/>
<rect x="490" y="234" width="5" height="3" fill="#32cd32"/>
<rect x="500" y="212" width="1" height="36" fill="#ff0000"/>
<rect x="498" y="220" width="5" height="17" fill="#ff0000"/>
<rect x="499" y="221" width="3" height="15" fill="#ff4500"/>
<rect x="508" y="210" width="1" height="20" fill="#32cd32"/>
<rect x="506" y="220" width="5" height="7" fill="#32cd32"/>
<rect x="516" y="209" width="1" height="21" fill="#ff0000"/>
<rect x="514" y="213" width="5" height="14" fill="#ff0000"/>
<rect x="515" y="214" width="3" height="12" fill="#ff4500"/>
<rect x="524" y="210" width="1" height="6" fill="#ff0000"/>
<rect x="522" y="215" width="5" height="1" fill="#ff0000"/>
<rect x="532" y="209" width="1" height="57" fill="#32cd32"/>
<rect x="530" y="215" width="5" height="44" fill="#32cd32"/>
<rect x="540" y="226" width="1" height="39" fill="#ff0000"/>
<rect x="538" y="232" width="5" height="27" fill="#ff0000"/>
<rect x="539" y="233" width="3" height="25" fill="#ff4500"/>
<rect x="548" y="212" width="1" height="35" fill="#32cd32"/>
<rect x="546" y="232" width="5" height="12" fill="#32cd32"/>
<rect x="556" y="243" width="1" height="45" fill="#32cd32"/>
<rect x="554" y="243" width="5" height="36" fill="#32cd32"/>
<rect x="564" y="262" width="1" height="36" fill="#ff0000"/>
<rect x="562" y="264" width="5" height="15" fill="#ff0000"/>
<rect x="563" y="265" width="3" height="13" fill="#ff4500"/>
<rect x="572" y="265" width="1" height="8" fill="#ff0000"/>
<rect x="570" y="268" width="5" height="1" fill="#ff0000"/>
<rect x="580" y="253" width="1" height="34" fill="#ff0000"/>
<rect x="578" y="267" width="5" height="2" fill="#ff0000"/>
<rect x="588" y="247" width="1" height="36" fill="#ff0000"/>
<rect x="586" y="249" width="5" height="19" fill="#ff0000"/>
<rect x="587" y="250" width="3" height="17" fill="#ff4500"/>
<rect x="596" y="200" width="1" height="56" fill="#ff0000"/>
<rect x="594" y="206" width="5" height="44" fill="#ff0000"/>
<rect x="595" y="207" width="3" height="42" fill="#ff4500"/>
<rect x="604" y="187" width="1" height="25" fill="#ff0000"/>
<rect x="602" y="207" width="5" height="1" fill="#ff0000"/>
<rect x="612" y="199" width="1" height="58" fill="#32cd32"/>
<rect x="610" y="208" width="5" height="43" fill="#32cd32"/>
<rect x="620" y="246" width="1" height="6" fill="#ff0000"/>
<rect x="618" y="246" width="5" height="1" fill="#ff0000"/>
<rect x="628" y="238" width="1" height="21" fill="#32cd32"/>
<rect x="626" y="245" width="5" height="4" fill="#32cd32"/>
<rect x="636" y="239" width="1" height="35" fill="#32cd32"/>
<rect x="634" y="248" width="5" height="16" fill="#32cd32"/>
<rect x="644" y="232" width="1" height="38" fill="#ff0000"/>
<rect x="642" y="246" width="5" height="17" fill="#ff0000"/>
<rect x="643" y="247" width="3" height="15" fill="#ff4500"/>
<rect x="652" y="209" width="1" height="44" fill="#32cd32"/>
<rect x="650" y="245" width="5" height="1" fill="#32cd32"/>
<rect x="660" y="244" width="1" height="27" fill="#32cd32"/>
<rect x="658" y="245" width="5" height="25" fill="#32cd32"/>
<rect x="668" y="262" width="1" height="10" fill="#ff0000"/>
<rect x="666" y="263" width="5" height="8" fill="#ff0000"/>
<rect x="667" y="264" width="3" height="6" fill="#ff4500"/>
<rect x="676" y="263" width="1" height="58" fill="#32cd32"/>
<rect x="674" y="263" width="5" height="21" fill="#32cd32"/>
<rect x="684" y="269" width="1" height="34" fill="#ff0000"/>
<rect x="682" y="280" width="5" height="3" fill="#ff0000"/>
<rect x="683" y="281" width="3" height="1" fill="#ff4500"/>
<rect x="692" y="266" width="1" height="52" fill="#32cd32"/>
<rect x="690" y="280" width="5" height="23" fill="#32cd32"/>
<rect x="700" y="302" width="1" height="59" fill="#32cd32"/>
<rect x="698" y="302" width="5" height="53" fill="#32cd32"/>
<rect x="708" y="347" width="1" height="48" fill="#32cd32"/>
<rect x="706" y="354" width="5" height="32" fill="#32cd32"/>
<rect x="716" y="377" width="1" height="6" fill="#ff0000"/>
<rect x="714" y="377" width="5" height="2" fill="#ff0000"/>
<rect x="724" y="329" width="1" height="51" fill="#ff0000"/>
<rect x="722" y="334" width="5" height="44" fill="#ff0000"/>
<rect x="723" y="335" width="3" height="42" fill="#ff4500"/>
<rect x="732" y="292" width="1" height="63" fill="#ff0000"/>
<rect x="730" y="295" width="5" height="40" fill="#ff0000"/>
<rect x="731" y="296" width="3" height="38" fill="#ff4500"/>
<rect x="740" y="280" width="1" height="25" fill="#32cd32"/>
<rect x="738" y="294" width="5" height="9" fill="#32cd32"/>
<rect x="748" y="274" width="1" height="36" fill="#ff0000"/>
<rect x="746" y="290" width="5" height="13" fill="#ff0000"/>
<rect x="747" y="291" width="3" height="11" fill="#ff4500"/>
<rect x="756" y="284" width="1" height="61" fill="#32cd32"/>
<rect x="754" y="290" width="5" height="41" fill="#32cd32"/>
<rect x="764" y="324" width="1" height="5" fill="#32cd32"/>
<rect x="762" y="326" width="5" height="2" fill="#32cd32"/>
<rect x="772" y="297" width="1" height="40" fill="#ff0000"/>
<rect x="770" y="299" width="5" height="29" fill="#ff0000"/>
<rect x="771" y="300" width="3" height="27" fill="#ff4500"/>
<rect x="780" y="287" width="1" height="25" fill="#ff0000"/>
<rect x="778" y="288" width="5" height="11" fill="#ff0000"/>
<rect x="779" y="289" width="3" height="9" fill="#ff4500"/>
<rect x="788" y="258" width="1" height="33" fill="#ff0000"/>
<rect x="786" y="269" width="5" height="20" fill="#ff0000"/>
<rect x="787" y="270" width="3" height="18" fill="#ff4500"/>
<rect x="796" y="226" width="1" height="61" fill="#32cd32"/>
<rect x="794" y="269" width="5" height="10" fill="#32cd32"/>
<rect x="804" y="264" width="1" height="47" fill="#32cd32"/>
<rect x="802" y="278" width="5" height="23" fill="#32cd32"/>
<rect x="812" y="285" width="1" height="14" fill="#ff0000"/>
<rect x="810" y="288" width="5" height="9" fill="#ff0000"/>
<rect x="811" y="289" width="3" height="7" fill="#ff4500"/>
<rect x="820" y="287" width="1" height="37" fill="#32cd32"/>
<rect x="818" y="288" width="5" height="9" fill="#32cd32"/>
<rect x="828" y="281" width="1" height="34" fill="#ff0000"/>
<rect x="826" y="286" width="5" height="10" fill="#ff0000"/>
<rect x="827" y="287" width="3" height="8" fill="#ff4500"/>
<rect x="836" y="250" width="1" height="40" fill="#ff0000"/>
<rect x="834" y="260" width="5" height="27" fill="#ff0000"/>
<rect x="835" y="261" width="3" height="25" fill="#ff4500"/>
<rect x="844" y="245" width="1" height="41" fill="#32cd32"/>
<rect x="842" y="260" width="5" height="4" fill="#32cd32"/>
<rect x="852" y="239" width="1" height="38" fill="#32cd32"/>
<rect x="850" y="263" width="5" height="2" fill="#32cd32"/>
<rect x="860" y="270" width="1" height="6" fill="#32cd32"/>
<rect x="858" y="271" width="5" height="2" fill="#32cd32"/>
<rect x="868" y="242" width="1" height="34" fill="#ff0000"/>
<rect x="866" y="265" width="5" height="8" fill="#ff0000"/>
<rect x="867" y="266" width="3" height="6" fill="#ff4500"/>
<rect x="876" y="235" width="1" height="32" fill="#ff0000"/>
<rect x="874" y="239" width="5" height="27" fill="#ff0000"/>
<rect x="875" y="240" width="3" height="25" fill="#ff4500"/>
<rect x="884" y="205" width="1" height="40" fill="#ff0000"/>
<rect x="882" y="239" width="5" height="1" fill="#ff0000"/>
<rect x="892" y="238" width="1" height="81" fill="#32cd32"/>
<rect x="890" y="239" width="5" height="41" fill="#32cd32"/>
<rect x="900" y="233" width="1" height="57" fill="#ff0000"/>
<rect x="898" y="236" width="5" height="44" fill="#ff0000"/>
<rect x="899" y="237" width="3" height="42" fill="#ff4500"/>
<rect x="908" y="262" width="1" height="11" fill="#ff0000"/>
<rect x="906" y="264" width="5" height="5" fill="#ff0000"/>
<rect x="907" y="265" width="3" height="3" fill="#ff4500"/>
<rect x="916" y="215" width="1" height="59" fill="#ff0000"/>
<rect x="914" y="216" width="5" height="48" fill="#ff0000"/>
<rect x="915" y="217" width="3" height="46" fill="#ff4500"/>
</g>
<rect x="3" y="420" width="3" height="13" fill="#c0c0c0"/>
<rect x="11" y="417" width="3" height="16" fill="#c0c0c0"/>
<rect x="19" y="416" width="3" height="17" fill="#c0c0c0"/>
<rect x="27" y="415" width="3" height="18" fill="#c0c0c0"/>
<rect x="35" y="414" width="3" height="19" fill="#c0c0c0"/>
<rect x="43" y="413" width="3" height="20" fill="#c0c0c0"/>
<rect x="51" y="412" width="3" height="21" fill="#c0c0c0"/>
<rect x="59" y="411" width="3" height="22" fill="#c0c0c0"/>
<rect x="67" y="410" width="3" height="23" fill="#c0c0c0"/>
<rect x="75" y="410" width="3" height="23" fill="#c0c0c0"/>
<rect x="83" y="410" width="3" height="23" fill="#c0c0c0"/>
<rect x="91" y="410" width="3" height="23" fill="#c0c0c0"/>
<rect x="99" y="411" width="3" height="22" fill="#c0c0c0"/>
<rect x="107" y="413" width="3" height="20" fill="#c0c0c0"/>
<rect x="115" y="416" width="3" height="17" fill="#c0c0c0"/>
<rect x="123" y="420" width="3" height="13" fill="#c0c0c0"/>
<rect x="131" y="423" width="3" height="10" fill="#c0c0c0"/>
<rect x="139" y="426" width="3" height="7" fill="#c0c0c0"/>
<rect x="147" y="428" width="3" height="5" fill="#c0c0c0"/>
<rect x="155" y="430" width="3" height="3" fill="#c0c0c0"/>
<rect x="483" y="431" width="3" height="2" fill="#c0c0c0"/>
<rect x="491" y="430" width="3" height="3" fill="#c0c0c0"/>
<rect x="499" y="428" width="3" height="5" fill="#c0c0c0"/>
<rect x="507" y="427" width="3" height="6" fill="#c0c0c0"/>
<rect x="515" y="425" width="3" height="8" fill="#c0c0c0"/>
<rect x="523" y="424" width="3" height="9" fill="#c0c0c0"/>
<rect x="531" y="426" width="3" height="7" fill="#c0c0c0"/>
<rect x="539" y="426" width="3" height="7" fill="#c0c0c0"/>
<rect x="547" y="426" width="3" height="7" fill="#c0c0c0"/>
<rect x="555" y="429" width="3" height="4" fill="#c0c0c0"/>
<rect x="563" y="431" width="3" height="2" fill="#c0c0c0"/>
<rect x="571" y="432" width="3" height="1" fill="#c0c0c0"/>
<rect x="595" y="430" width="3" height="3" fill="#c0c0c0"/>
<rect x="603" y="428" width="3" height="5" fill="#c0c0c0"/>
<rect x="611" y="429" width="3" height="4" fill="#c0c0c0"/>
<rect x="619" y="430" width="3" height="3" fill="#c0c0c0"/>
<rect x="627" y="430" width="3" height="3" fill="#c0c0c0"/>
<rect x="635" y="431" width="3" height="2" fill="#c0c0c0"/>
<rect x="643" y="432" width="3" height="1" fill="#c0c0c0"/>
<rect x="651" y="432" width="3" height="1" fill="#c0c0c0"/>
<rect x="843" y="432" width="3" height="1" fill="#c0c0c0"/>
<rect x="851" y="431" width="3" height="2" fill="#c0c0c0"/>
<rect x="859" y="431" width="3" height="2" fill="#c0c0c0"/>
<rect x="867" y="430" width="3" height="3" fill="#c0c0c0"/>
<rect x="875" y="428" width="3" height="5" fill="#c0c0c0"/>
<rect x="883" y="426" width="3" height="7" fill="#c0c0c0"/>
<rect x="891" y="428" width="3" height="5" fill="#c0c0c0"/>
<rect x="899" y="426" width="3" height="7" fill="#c0c0c0"/>
<rect x="907" y="427" width="3" height="6" fill="#c0c0c0"/>
<rect x="915" y="424" width="3" height="9" fill="#c0c0c0"/>
<rect x="163" y="433" width="3" height="2" fill="#c0c0c0"/>
<rect x="171" y="433" width="3" height="6" fill="#c0c0c0"/>
<rect x="179" y="433" width="3" height="8" fill="#c0c0c0"/>
<rect x="187" y="433" width="3" height="10" fill="#c0c0c0"/>
<rect x="195" y="433" width="3" height="10" fill="#c0c0c0"/>
<rect x="203" y="433" width="3" height="12" fill="#c0c0c0"/>
<rect x="211" y="433" width="3" height="15" fill="#c0c0c0"/>
<rect x="219" y="433" width="3" height="16" fill="#c0c0c0"/>
<rect x="227" y="433" width="3" height="19" fill="#c0c0c0"/>
<rect x="235" y="433" width="3" height="20" fill="#c0c0c0"/>
<rect x="243" y="433" width="3" height="22" fill="#c0c0c0"/>
<rect x="251" y="433" width="3" height="23" fill="#c0c0c0"/>
<rect x="259" y="433" width="3" height="24" fill="#c0c0c0"/>
<rect x="267" y="433" width="3" height="26" fill="#c0c0c0"/>
<rect x="275" y="433" width="3" height="29" fill="#c0c0c0"/>
<rect x="283" y="433" width="3" height="30" fill="#c0c0c0"/>
<rect x="291" y="433" width="3" height="31" fill="#c0c0c0"/>
<rect x="299" y="433" width="3" height="31" fill="#c0c0c0"/>
<rect x="307" y="433" width="3" height="32" fill="#c0c0c0"/>
<rect x="315" y="433" width="3" height="33" fill="#c0c0c0"/>
<rect x="323" y="433" width="3" height="37" fill="#c0c0c0"/>
<rect x="331" y="433" width="3" height="38" fill="#c0c0c0"/>
<rect x="339" y="433" width="3" height="38" fill="#c0c0c0"/>
<rect x="347" y="433" width="3" height="35" fill="#c0c0c0"/>
<rect x="355" y="433" width="3" height="31" fill="#c0c0c0"/>
<rect x="363" y="433" width="3" height="28" fill="#c0c0c0"/>
<rect x="371" y="433" width="3" height="24" fill="#c0c0c0"/>
<rect x="379" y="433" width="3" height="21" fill="#c0c0c0"/>
<rect x="387" y="433" width="3" height="20" fill="#c0c0c0"/>
<rect x="395" y="433" width="3" height="20" fill="#c0c0c0"/>
<rect x="403" y="433" width="3" height="17" fill="#c0c0c0"/>
<rect x="411" y="433" width="3" height="15" fill="#c0c0c0"/>
<rect x="419" y="433" width="3" height="14" fill="#c0c0c0"/>
<rect x="427" y="433" width="3" height="14" fill="#c0c0c0"/>
<rect x="435" y="433" width="3" height="14" fill="#c0c0c0"/>
<rect x="443" y="433" width="3" height="13" fill="#c0c0c0"/>
<rect x="451" y="433" width="3" height="9" fill="#c0c0c0"/>
<rect x="459" y="433" width="3" height="6" fill="#c0c0c0"/>
<rect x="467" y="433" width="3" height="3" fill="#c0c0c0"/>
<rect x="475" y="433" width="3" height="1" fill="#c0c0c0"/>
<rect x="579" y="433" width="3" height="1" fill="#c0c0c0"/>
<rect x="587" y="433" width="3" height="1" fill="#c0c0c0"/>
<rect x="659" y="433" width="3" height="1" fill="#c0c0c0"/>
<rect x="667" y="433" width="3" height="2" fill="#c0c0c0"/>
<rect x="675" y="433" width="3" height="4" fill="#c0c0c0"/>
<rect x="683" y="433" width="3" height="5" fill="#c0c0c0"/>
<rect x="691" y="433" width="3" height="7" fill="#c0c0c0"/>
<rect x="699" y="433" width="3" height="12" fill="#c0c0c0"/>
<rect x="707" y="433" width="3" height="17" fill="#c0c0c0"/>
<rect x="715" y="433" width="3" height="21" fill="#c0c0c0"/>
<rect x="723" y="433" width="3" height="21" fill="#c0c0c0"/>
<rect x="731" y="433" width="3" height="18" fill="#c0c0c0"/>
<rect x="739" y="433" width="3" height="17" fill="#c0c0c0"/>
<rect x="747" y="433" width="3" height="15" fill="#c0c0c0"/>
<rect x="755" y="433" width="3" height="16" fill="#c0c0c0"/>
<rect x="763" y="433" width="3" height="15" fill="#c0c0c0"/>
<rect x="771" y="433" width="3" height="13" fill="#c0c0c0"/>
<rect x="779" y="433" width="3" height="11" fill="#c0c0c0"/>
<rect x="787" y="433" width="3" height="8" fill="#c0c0c0"/>
<rect x="795" y="433" width="3" height="6" fill="#c0c0c0"/>
<rect x="803" y="433" width="3" height="6" fill="#c0c0c0"/>
<rect x="811" y="433" width="3" height="5" fill="#c0c0c0"/>
<rect x="819" y="433" width="3" height="5" fill="#c0c0c0"/>
<rect x="827" y="433" width="3" height="4" fill="#c0c0c0"/>
<rect x="835" y="433" width="3" height="2" fill="#c0c0c0"/>
<path d="M4 428h1v1h-1zM5 428h1v1h-1zM6 428h1v1h-1zM7 427h1v1h-1zM8 427h1v1h-1zM9 427h1v1h-1zM10 427h1v1h-1zM11 426h1v1h-1zM12 426h1v1h-1zM13 426h1v1h-1zM14 425h1v1h-1zM15 425h1v1h-1zM16 425h1v1h-1zM17 424h1v1h-1zM18 424h1v1h-1zM19 424h1v1h-1zM20 423h1v1h-1zM21 423h1v1h-1zM22 423h1v1h-1zM23 422h1v1h-1zM24 422h1v1h-1zM25 422h1v1h-1zM26 421h1v1h-1zM27 421h1v1h-1zM28 421h1v1h-1zM29 420h1v1h-1zM30 420h1v1h-1zM31 420h1v1h-1zM32 420h1v1h-1zM33 420h1v1h-1zM34 419h1v1h-1zM35 419h1v1h-1zM36 419h1v1h-1zM37 419h1v1h-1zM38 418h1v1h-1zM39 418h1v1h-1zM40 418h1v1h-1zM41 418h1v1h-1zM42 418h1v1h-1zM43 417h1v1h-1zM44 417h1v1h-1zM45 417h1v1h-1zM46 417h1v1h-1zM47 417h1v1h-1zM48 416h1v1h-1zM49 416h1v1h-1zM50 416h1v1h-1zM51 416h1v1h-1zM52 416h1v1h-1zM53 415h1v1h-1zM54 415h1v1h-1zM55 415h1v1h-1zM56 415h1v1h-1zM57 415h1v1h-1zM58 414h1v1h-1zM59 414h1v1h-1zM60 414h1v1h-1zM61 414h1v1h-1zM62 414h1v1h-1zM63 413h1v1h-1zM64 413h1v1h-1zM65 413h1v1h-1zM66 413h1v1h-1zM67 413h1v1h-1zM68 413h1v1h-1zM69 412h1v1h-1zM70 412h1v1h-1zM71 412h1v1h-1zM72 412h1v1h-1zM73 412h1v1h-1zM74 412h1v1h-1zM75 412h1v1h-1zM76 412h1v1h-1zM77 412h1v1h-1zM78 412h1v1h-1zM79 412h1v1h-1zM80 412h1v1h-1zM81 412h1v1h-1zM82 412h1v1h-1zM83 412h1v1h-1zM84 412h1v1h-1zM85 411h1v1h-1zM86 411h1v1h-1zM87 411h1v1h-1zM88 411h1v1h-1zM89 411h1v1h-1zM90 411h1v1h-1zM91 411h1v1h-1zM92 411h1v1h-1zM93 411h1v1h-1zM94 411h1v1h-1zM95 411h1v1h-1zM96 411h1v1h-1zM97 411h1v1h-1zM98 411h1v1h-1zM99 411h1v1h-1zM100 411h1v1h-1zM101 411h1v1h-1zM102 411h1v1h-1zM103 411h1v1h-1zM104 411h1v1h-1zM105 412h1v1h-1zM106 412h1v1h-1zM107 412h1v1h-1zM108 412h1v1h-1zM109 412h1v1h-1zM110 412h1v1h-1zM111 412h1v1h-1zM112 412h1v1h-1zM113 412h1v1h-1zM114 412h1v1h-1zM115 412h1v1h-1zM116 412h1v1h-1zM117 412h1v1h-1zM118 412h1v1h-1zM119 412h1v1h-1zM120 412h1v1h-1zM121 412h1v1h-1zM122 412h1v1h-1zM123 413h1v1h-1zM124 413h1v1h-1zM125 413h1v1h-1zM126 413h1v1h-1zM127 413h1v1h-1zM128 413h1v1h-1zM129 413h1v1h-1zM130 413h1v1h-1zM131 413h1v1h-1zM132 413h1v1h-1zM133 414h1v1h-1zM134 414h1v1h-1zM135 414h1v1h-1zM136 414h1v1h-1zM137 414h1v1h-1zM138 414h1v1h-1zM139 415h1v1h-1zM140 415h1v1h-1zM141 415h1v1h-1zM142 415h1v1h-1zM143 415h1v1h-1zM144 415h1v1h-1zM145 416h1v1h-1zM146 416h1v1h-1zM147 416h1v1h-1zM148 416h1v1h-1zM149 417h1v1h-1zM150 417h1v1h-1zM151 417h1v1h-1zM152 418h1v1h-1zM153 418h1v1h-1zM154 418h1v1h-1zM155 419h1v1h-1zM156 419h1v1h-1zM157 420h1v1h-1zM158 420h1v1h-1zM159 421h1v1h-1zM160 421h1v1h-1zM161 421h1v1h-1zM162 422h1v1h-1zM163 422h1v1h-1zM164 422h1v1h-1zM165 423h1v1h-1zM166 423h1v1h-1zM167 423h1v1h-1zM168 423h1v1h-1zM169 424h1v1h-1zM170 424h1v1h-1zM171 424h1v1h-1zM172 425h1v1h-1zM173 425h1v1h-1zM174 426h1v1h-1zM175 426h1v1h-1zM176 427h1v1h-1zM177 427h1v1h-1zM178 428h1v1h-1zM179 428h1v1h-1zM180 429h1v1h-1zM181 429h1v1h-1zM182 429h1v1h-1zM183 430h1v1h-1zM184 430h1v1h-1zM185 430h1v1h-1zM186 430h1v1h-1zM187 431h1v1h-1zM188 431h1v1h-1zM189 431h1v1h-1zM190 432h1v1h-1zM191 432h1v1h-1zM192 432h1v1h-1zM193 433h1v1h-1zM194 433h1v1h-1zM195 433h1v1h-1zM196 434h1v1h-1zM197 434h1v1h-1zM198 434h1v1h-1zM199 434h1v1h-1zM200 435h1v1h-1zM201 435h1v1h-1zM202 435h1v1h-1zM203 436h1v1h-1zM204 436h1v1h-1zM205 436h1v1h-1zM206 437h1v1h-1zM207 437h1v1h-1zM208 437h1v1h-1zM209 437h1v1h-1zM210 438h1v1h-1zM211 438h1v1h-1zM212 438h1v1h-1zM213 439h1v1h-1zM214 439h1v1h-1zM215 439h1v1h-1zM216 440h1v1h-1zM217 440h1v1h-1zM218 440h1v1h-1zM219 440h1v1h-1zM220 441h1v1h-1zM221 441h1v1h-1zM222 441h1v1h-1zM223 442h1v1h-1zM224 442h1v1h-1zM225 442h1v1h-1zM226 442h1v1h-1zM227 443h1v1h-1zM228 443h1v1h-1zM229 443h1v1h-1zM230 444h1v1h-1zM231 444h1v1h-1zM232 444h1v1h-1zM233 444h1v1h-1zM234 445h1v1h-1zM235 445h1v1h-1zM236 445h1v1h-1zM237 445h1v1h-1zM238 446h1v1h-1zM239 446h1v1h-1zM240 446h1v1h-1zM241 446h1v1h-1zM242 447h1v1h-1zM243 447h1v1h-1zM244 447h1v1h-1zM245 447h1v1h-1zM246 447h1v1h-1zM247 447h1v1h-1zM248 448h1v1h-1zM249 448h1v1h-1zM250 448h1v1h-1zM251 448h1v1h-1zM252 448h1v1h-1zM253 449h1v1h-1zM254 449h1v1h-1zM255 449h1v1h-1zM256 449h1v1h-1zM257 449h1v1h-1zM258 449h1v1h-1zM259 450h1v1h-1zM260 450h1v1h-1zM261 450h1v1h-1zM262 450h1v1h-1zM263 450h1v1h-1zM264 451h1v1h-1zM265 451h1v1h-1zM266 451h1v1h-1zM267 451h1v1h-1zM268 452h1v1h-1zM269 452h1v1h-1zM270 452h1v1h-1zM271 452h1v1h-1zM272 453h1v1h-1zM273 453h1v1h-1zM274 453h1v1h-1zM275 453h1v1h-1zM276 454h1v1h-1zM277 454h1v1h-1zM278 454h1v1h-1zM279 454h1v1h-1zM280 455h1v1h-1zM281 455h1v1h-1zM282 455h1v1h-1zM283 455h1v1h-1zM284 455h1v1h-1zM285 456h1v1h-1zM286 456h1v1h-1zM287 456h1v1h-1zM288 456h1v1h-1zM289 456h1v1h-1zM290 457h1v1h-1zM291 457h1v1h-1zM292 457h1v1h-1zM293 457h1v1h-1zM294 457h1v1h-1zM295 457h1v1h-1zM296 458h1v1h-1zM297 458h1v1h-1zM298 458h1v1h-1zM299 458h1v1h-1zM300 458h1v1h-1zM301 459h1v1h-1zM302 459h1v1h-1zM303 459h1v1h-1zM304 459h1v1h-1zM305 459h1v1h-1zM306 459h1v1h-1zM307 460h1v1h-1zM308 460h1v1h-1zM309 460h1v1h-1zM310 460h1v1h-1zM311 460h1v1h-1zM312 460h1v1h-1zM313 461h1v1h-1zM314 461h1v1h-1zM315 461h1v1h-1zM316 461h1v1h-1zM317 461h1v1h-1zM318 461h1v1h-1zM319 462h1v1h-1zM320 462h1v1h-1zM321 462h1v1h-1zM322 462h1v1h-1zM323 462h1v1h-1zM324 462h1v1h-1zM325 463h1v1h-1zM326 463h1v1h-1zM327 463h1v1h-1zM328 463h1v1h-1zM329 463h1v1h-1zM330 463h1v1h-1zM331 464h1v1h-1zM332 464h1v1h-1zM333 464h1v1h-1zM334 464h1v1h-1zM335 464h1v1h-1zM336 465h1v1h-1zM337 465h1v1h-1zM338 465h1v1h-1zM339 465h1v1h-1zM340 465h1v1h-1zM341 465h1v1h-1zM342 466h1v1h-1zM343 466h1v1h-1zM344 466h1v1h-1zM345 466h1v1h-1zM346 466h1v1h-1zM347 467h1v1h-1zM348 467h1v1h-1zM349 467h1v1h-1zM350 467h1v1h-1zM351 467h1v1h-1zM352 466h1v1h-1zM353 466h1v1h-1zM354 466h1v1h-1zM355 466h1v1h-1zM356 466h1v1h-1zM357 466h1v1h-1zM358 466h1v1h-1zM359 466h1v1h-1zM360 466h1v1h-1zM361 466h1v1h-1zM362 466h1v1h-1zM363 466h1v1h-1zM364 466h1v1h-1zM365 466h1v1h-1zM366 466h1v1h-1zM367 466h1v1h-1zM368 466h1v1h-1zM369 466h1v1h-1zM370 466h1v1h-1zM371 465h1v1h-1zM372 465h1v1h-1zM373 465h1v1h-1zM374 465h1v1h-1zM375 465h1v1h-1zM376 465h1v1h-1zM377 464h1v1h-1zM378 464h1v1h-1zM379 464h1v1h-1zM380 464h1v1h-1zM381 464h1v1h-1zM382 463h1v1h-1zM383 463h1v1h-1zM384 463h1v1h-1zM385 463h1v1h-1zM386 462h1v1h-1zM387 462h1v1h-1zM388 462h1v1h-1zM389 462h1v1h-1zM390 462h1v1h-1zM391 461h1v1h-1zM392 461h1v1h-1zM393 461h1v1h-1zM394 461h1v1h-1zM395 460h1v1h-1zM396 460h1v1h-1zM397 460h1v1h-1zM398 460h1v1h-1zM399 459h1v1h-1zM400 459h1v1h-1zM401 459h1v1h-1zM402 458h1v1h-1zM403 458h1v1h-1zM404 458h1v1h-1zM405 457h1v1h-1zM406 457h1v1h-1zM407 457h1v1h-1zM408 456h1v1h-1zM409 456h1v1h-1zM410 456h1v1h-1zM411 455h1v1h-1zM412 455h1v1h-1zM413 455h1v1h-1zM414 454h1v1h-1zM415 454h1v1h-1zM416 454h1v1h-1zM417 454h1v1h-1zM418 453h1v1h-1zM419 453h1v1h-1zM420 453h1v1h-1zM421 452h1v1h-1zM422 452h1v1h-1zM423 452h1v1h-1zM424 452h1v1h-1zM425 452h1v1h-1zM426 452h1v1h-1zM427 451h1v1h-1zM428 451h1v1h-1zM429 451h1v1h-1zM430 451h1v1h-1zM431 451h1v1h-1zM432 450h1v1h-1zM433 450h1v1h-1zM434 450h1v1h-1zM435 450h1v1h-1zM436 450h1v1h-1zM437 450h1v1h-1zM438 449h1v1h-1zM439 449h1v1h-1zM440 449h1v1h-1zM441 449h1v1h-1zM442 449h1v1h-1zM443 448h1v1h-1zM444 448h1v1h-1zM445 448h1v1h-1zM446 448h1v1h-1zM447 448h1v1h-1zM448 447h1v1h-1zM449 447h1v1h-1zM450 447h1v1h-1zM451 447h1v1h-1zM452 447h1v1h-1zM453 446h1v1h-1zM454 446h1v1h-1zM455 446h1v1h-1zM456 446h1v1h-1zM457 446h1v1h-1zM458 445h1v1h-1zM459 445h1v1h-1zM460 445h1v1h-1zM461 445h1v1h-1zM462 445h1v1h-1zM463 444h1v1h-1zM464 444h1v1h-1zM465 444h1v1h-1zM466 444h1v1h-1zM467 443h1v1h-1zM468 443h1v1h-1zM469 443h1v1h-1zM470 443h1v1h-1zM471 443h1v1h-1zM472 442h1v1h-1zM473 442h1v1h-1zM474 442h1v1h-1zM475 442h1v1h-1zM476 441h1v1h-1zM477 441h1v1h-1zM478 441h1v1h-1zM479 441h1v1h-1zM480 441h1v1h-1zM481 440h1v1h-1zM482 440h1v1h-1zM483 440h1v1h-1zM484 440h1v1h-1zM485 439h1v1h-1zM486 439h1v1h-1zM487 439h1v1h-1zM488 439h1v1h-1zM489 438h1v1h-1zM490 438h1v1h-1zM491 438h1v1h-1zM492 438h1v1h-1zM493 437h1v1h-1zM494 437h1v1h-1zM495 437h1v1h-1zM496 437h1v1h-1zM497 436h1v1h-1zM498 436h1v1h-1zM499 436h1v1h-1zM500 436h1v1h-1zM501 435h1v1h-1zM502 435h1v1h-1zM503 435h1v1h-1zM504 435h1v1h-1zM505 434h1v1h-1zM506 434h1v1h-1zM507 434h1v1h-1zM508 434h1v1h-1zM509 433h1v1h-1zM510 433h1v1h-1zM511 433h1v1h-1zM512 433h1v1h-1zM513 433h1v1h-1zM514 432h1v1h-1zM515 432h1v1h-1zM516 432h1v1h-1zM517 432h1v1h-1zM518 431h1v1h-1zM519 431h1v1h-1zM520 431h1v1h-1zM521 431h1v1h-1zM522 431h1v1h-1zM523 431h1v1h-1zM524 430h1v1h-1zM525 430h1v1h-1zM526 430h1v1h-1zM527 430h1v1h-1zM528 430h1v1h-1zM529 430h1v1h-1zM530 429h1v1h-1zM531 429h1v1h-1zM532 429h1v1h-1zM533 429h1v1h-1zM534 429h1v1h-1zM535 429h1v1h-1zM536 428h1v1h-1zM537 428h1v1h-1zM538 428h1v1h-1zM539 428h1v1h-1zM540 428h1v1h-1zM541 428h1v1h-1zM542 428h1v1h-1zM543 427h1v1h-1zM544 427h1v1h-1zM545 427h1v1h-1zM546 427h1v1h-1zM547 427h1v1h-1zM548 427h1v1h-1zM549 427h1v1h-1zM550 427h1v1h-1zM551 427h1v1h-1zM552 427h1v1h-1zM553 427h1v1h-1zM554 427h1v1h-1zM555 427h1v1h-1zM556 427h1v1h-1zM557 427h1v1h-1zM558 427h1v1h-1zM559 427h1v1h-1zM560 427h1v1h-1zM561 427h1v1h-1zM562 427h1v1h-1zM563 427h1v1h-1zM564 427h1v1h-1zM565 427h1v1h-1zM566 427h1v1h-1zM567 427h1v1h-1zM568 427h1v1h-1zM569 427h1v1h-1zM570 427h1v1h-1zM571 427h1v1h-1zM572 427h1v1h-1zM573 427h1v1h-1zM574 427h1v1h-1zM575 427h1v1h-1zM576 427h1v1h-1zM577 427h1v1h-1zM578 428h1v1h-1zM579 428h1v1h-1zM580 428h1v1h-1zM581 428h1v1h-1zM582 428h1v1h-1zM583 428h1v1h-1zM584 428h1v1h-1zM585 428h1v1h-1zM586 429h1v1h-1zM587 429h1v1h-1zM588 429h1v1h-1zM589 429h1v1h-1zM590 429h1v1h-1zM591 429h1v1h-1zM592 429h1v1h-1zM593 430h1v1h-1zM594 430h1v1h-1zM595 430h1v1h-1zM596 430h1v1h-1zM597 430h1v1h-1zM598 430h1v1h-1zM599 430h1v1h-1zM600 430h1v1h-1zM601 430h1v1h-1zM602 430h1v1h-1zM603 430h1v1h-1zM604 430h1v1h-1zM605 430h1v1h-1zM606 430h1v1h-1zM607 430h1v1h-1zM608 430h1v1h-1zM609 430h1v1h-1zM610 430h1v1h-1zM611 430h1v1h-1zM612 430h1v1h-1zM613 430h1v1h-1zM614 430h1v1h-1zM615 430h1v1h-1zM616 430h1v1h-1zM617 430h1v1h-1zM618 430h1v1h-1zM619 430h1v1h-1zM620 430h1v1h-1zM621 430h1v1h-1zM622 430h1v1h-1zM623 430h1v1h-1zM624 430h1v1h-1zM625 431h1v1h-1zM626 431h1v1h-1zM627 431h1v1h-1zM628 431h1v1h-1zM629 431h1v1h-1zM630 431h1v1h-1zM631 431h1v1h-1zM632 431h1v1h-1zM633 431h1v1h-1zM634 431h1v1h-1zM635 431h1v1h-1zM636 431h1v1h-1zM637 431h1v1h-1zM638 431h1v1h-1zM639 431h1v1h-1zM640 431h1v1h-1zM641 431h1v1h-1zM642 431h1v1h-1zM643 431h1v1h-1zM644 431h1v1h-1zM645 431h1v1h-1zM646 431h1v1h-1zM647 430h1v1h-1zM648 430h1v1h-1zM649 430h1v1h-1zM650 430h1v1h-1zM651 430h1v1h-1zM652 430h1v1h-1zM653 430h1v1h-1zM654 431h1v1h-1zM655 431h1v1h-1zM656 431h1v1h-1zM657 431h1v1h-1zM658 431h1v1h-1zM659 431h1v1h-1zM660 431h1v1h-1zM661 431h1v1h-1zM662 432h1v1h-1zM663 432h1v1h-1zM664 432h1v1h-1zM665 432h1v1h-1zM666 432h1v1h-1zM667 432h1v1h-1zM668 432h1v1h-1zM669 432h1v1h-1zM670 432h1v1h-1zM671 432h1v1h-1zM672 432h1v1h-1zM673 432h1v1h-1zM674 432h1v1h-1zM675 432h1v1h-1zM676 432h1v1h-1zM677 433h1v1h-1zM678 433h1v1h-1zM679 433h1v1h-1zM680 433h1v1h-1zM681 433h1v1h-1zM682 433h1v1h-1zM683 433h1v1h-1zM684 433h1v1h-1zM685 433h1v1h-1zM686 433h1v1h-1zM687 433h1v1h-1zM688 434h1v1h-1zM689 434h1v1h-1zM690 434h1v1h-1zM691 434h1v1h-1zM692 434h1v1h-1zM693 434h1v1h-1zM694 434h1v1h-1zM695 434h1v1h-1zM696 434h1v1h-1zM697 434h1v1h-1zM698 435h1v1h-1zM699 435h1v1h-1zM700 435h1v1h-1zM701 435h1v1h-1zM702 435h1v1h-1zM703 436h1v1h-1zM704 436h1v1h-1zM705 436h1v1h-1zM706 437h1v1h-1zM707 437h1v1h-1zM708 437h1v1h-1zM709 438h1v1h-1zM710 438h1v1h-1zM711 438h1v1h-1zM712 439h1v1h-1zM713 439h1v1h-1zM714 439h1v1h-1zM715 440h1v1h-1zM716 440h1v1h-1zM717 440h1v1h-1zM718 441h1v1h-1zM719 441h1v1h-1zM720 441h1v1h-1zM721 441h1v1h-1zM722 442h1v1h-1zM723 442h1v1h-1zM724 442h1v1h-1zM725 442h1v1h-1zM726 442h1v1h-1zM727 443h1v1h-1zM728 443h1v1h-1zM729 443h1v1h-1zM730 443h1v1h-1zM731 443h1v1h-1zM732 444h1v1h-1zM733 444h1v1h-1zM734 444h1v1h-1zM735 444h1v1h-1zM736 444h1v1h-1zM737 445h1v1h-1zM738 445h1v1h-1zM739 445h1v1h-1zM740 445h1v1h-1zM741 445h1v1h-1zM742 446h1v1h-1zM743 446h1v1h-1zM744 446h1v1h-1zM745 446h1v1h-1zM746 446h1v1h-1zM747 447h1v1h-1zM748 447h1v1h-1zM749 447h1v1h-1zM750 447h1v1h-1zM751 447h1v1h-1zM752 447h1v1h-1zM753 448h1v1h-1zM754 448h1v1h-1zM755 448h1v1h-1zM756 448h1v1h-1zM757 448h1v1h-1zM758 448h1v1h-1zM759 449h1v1h-1zM760 449h1v1h-1zM761 449h1v1h-1zM762 449h1v1h-1zM763 449h1v1h-1zM764 449h1v1h-1zM765 449h1v1h-1zM766 449h1v1h-1zM767 449h1v1h-1zM768 449h1v1h-1zM769 449h1v1h-1zM770 449h1v1h-1zM771 449h1v1h-1zM772 449h1v1h-1zM773 449h1v1h-1zM774 449h1v1h-1zM775 449h1v1h-1zM776 449h1v1h-1zM777 449h1v1h-1zM778 449h1v1h-1zM779 448h1v1h-1zM780 448h1v1h-1zM781 448h1v1h-1zM782 448h1v1h-1zM783 448h1v1h-1zM784 448h1v1h-1zM785 448h1v1h-1zM786 447h1v1h-1zM787 447h1v1h-1zM788 447h1v1h-1zM789 447h1v1h-1zM790 447h1v1h-1zM791 447h1v1h-1zM792 446h1v1h-1zM793 446h1v1h-1zM794 446h1v1h-1zM795 446h1v1h-1zM796 446h1v1h-1zM797 446h1v1h-1zM798 445h1v1h-1zM799 445h1v1h-1zM800 445h1v1h-1zM801 445h1v1h-1zM802 445h1v1h-1zM803 444h1v1h-1zM804 444h1v1h-1zM805 444h1v1h-1zM806 444h1v1h-1zM807 444h1v1h-1zM808 443h1v1h-1zM809 443h1v1h-1zM810 443h1v1h-1zM811 443h1v1h-1zM812 443h1v1h-1zM813 443h1v1h-1zM814 443h1v1h-1zM815 442h1v1h-1zM816 442h1v1h-1zM817 442h1v1h-1zM818 442h1v1h-1zM819 442h1v1h-1zM820 442h1v1h-1zM821 442h1v1h-1zM822 441h1v1h-1zM823 441h1v1h-1zM824 441h1v1h-1zM825 441h1v1h-1zM826 441h1v1h-1zM827 441h1v1h-1zM828 440h1v1h-1zM829 440h1v1h-1zM830 440h1v1h-1zM831 440h1v1h-1zM832 440h1v1h-1zM833 440h1v1h-1zM834 439h1v1h-1zM835 439h1v1h-1zM836 439h1v1h-1zM837 439h1v1h-1zM838 439h1v1h-1zM839 438h1v1h-1zM840 438h1v1h-1zM841 438h1v1h-1zM842 438h1v1h-1zM843 438h1v1h-1zM844 438h1v1h-1zM845 437h1v1h-1zM846 437h1v1h-1zM847 437h1v1h-1zM848 437h1v1h-1zM849 437h1v1h-1zM850 437h1v1h-1zM851 436h1v1h-1zM852 436h1v1h-1zM853 436h1v1h-1zM854 436h1v1h-1zM855 436h1v1h-1zM856 436h1v1h-1zM857 436h1v1h-1zM858 436h1v1h-1zM859 436h1v1h-1zM860 435h1v1h-1zM861 435h1v1h-1zM862 435h1v1h-1zM863 435h1v1h-1zM864 435h1v1h-1zM865 435h1v1h-1zM866 435h1v1h-1zM867 434h1v1h-1zM868 434h1v1h-1zM869 434h1v1h-1zM870 434h1v1h-1zM871 434h1v1h-1zM872 434h1v1h-1zM873 434h1v1h-1zM874 433h1v1h-1zM875 433h1v1h-1zM876 433h1v1h-1zM877 433h1v1h-1zM878 433h1v1h-1zM879 433h1v1h-1zM880 433h1v1h-1zM881 433h1v1h-1zM882 432h1v1h-1zM883 432h1v1h-1zM884 432h1v1h-1zM885 432h1v1h-1zM886 432h1v1h-1zM887 432h1v1h-1zM888 432h1v1h-1zM889 432h1v1h-1zM890 431h1v1h-1zM891 431h1v1h-1zM892 431h1v1h-1zM893 431h1v1h-1zM894 431h1v1h-1zM895 431h1v1h-1zM896 431h1v1h-1zM897 431h1v1h-1zM898 430h1v1h-1zM899 430h1v1h-1zM900 430h1v1h-1zM901 430h1v1h-1zM902 430h1v1h-1zM903 430h1v1h-1zM904 430h1v1h-1zM905 429h1v1h-1zM906 429h1v1h-1zM907 429h1v1h-1zM908 429h1v1h-1zM909 429h1v1h-1zM910 429h1v1h-1zM911 429h1v1h-1zM912 429h1v1h-1zM913 428h1v1h-1zM914 428h1v1h-1zM915 428h1v1h-1zM916 428h1v1h-1z" fill="#ff0000"/>
<line x1="5" y1="498.5" x2="1166" y2="498.5" stroke="#c0c0c0" stroke-width="1" stroke-dasharray="3 3"/>
<line x1="5" y1="526.5" x2="1166" y2="526.5" stroke="#c0c0c0" stroke-width="1" stroke-dasharray="3 3"/>
<path d="M4 503h1v1h-1zM5 503h1v1h-1zM6 502h1v1h-1zM7 502h1v1h-1zM8 501h1v1h-1zM9 501h1v1h-1zM10 501h1v1h-1zM11 500h1v1h-1zM12 500h1v1h-1zM13 499h1v1h-1zM14 499h1v1h-1zM15 498h1v1h-1zM16 498h1v1h-1zM17 497h1v1h-1zM18 497h1v1h-1zM19 497h1v1h-1zM20 496h1v1h-1zM21 497h1v1h-1zM22 498h1v1h-1zM23 499h1v1h-1zM24 499h1v1h-1zM25 500h1v1h-1zM26 501h1v1h-1zM27 502h1v1h-1zM28 503h1v1h-1zM29 503h1v1h-1zM30 503h1v1h-1zM31 503h1v1h-1zM32 503h1v1h-1zM33 503h1v1h-1zM34 503h1v1h-1zM35 503h1v1h-1zM36 503h1v1h-1zM37 503h1v1h-1zM38 503h1v1h-1zM39 503h1v1h-1zM40 503h1v1h-1zM41 503h1v1h-1zM42 503h1v1h-1zM43 503h1v1h-1zM44 503h1v1h-1zM45 503h1v1h-1zM46 503h1v1h-1zM47 502h1v1h-1zM48 502h1v1h-1zM49 502h1v1h-1zM50 502h1v1h-1zM51 501h1v1h-1zM52 501h1v1h-1zM53 501h1v1h-1zM54 501h1v1h-1zM55 500h1v1h-1zM56 500h1v1h-1zM57 500h1v1h-1zM58 500h1v1h-1zM59 499h1v1h-1zM60 499h1v1h-1zM61 499h1v1h-1zM62 500h1v1h-1zM63 500h1v1h-1zM64 500h1v1h-1zM65 500h1v1h-1zM66 501h1v1h-1zM67 501h1v1h-1zM68 501h1v1h-1zM69 501h1v1h-1zM70 501h1v1h-1zM71 500h1v1h-1zM72 500h1v1h-1zM73 500h1v1h-1zM74 500h1v1h-1zM75 499h1v1h-1zM76 499h1v1h-1zM77 499h1v1h-1zM78 499h1v1h-1zM79 500h1v1h-1zM80 500h1v1h-1zM81 500h1v1h-1zM82 500h1v1h-1zM83 500h1v1h-1zM84 500h1v1h-1zM85 500h1v1h-1zM86 500h1v1h-1zM87 500h1v1h-1zM88 501h1v1h-1zM89 501h1v1h-1zM90 501h1v1h-1zM91 501h1v1h-1zM92 501h1v1h-1zM93 501h1v1h-1zM94 501h1v1h-1zM95 501h1v1h-1zM96 501h1v1h-1zM97 501h1v1h-1zM98 501h1v1h-1zM99 501h1v1h-1zM100 501h1v1h-1zM101 502h1v1h-1zM102 503h1v2h-1zM103 505h1v1h-1zM104 506h1v2h-1zM105 508h1v1h-1zM106 509h1v1h-1zM107 510h1v2h-1zM108 512h1v1h-1zM109 512h1v1h-1zM110 511h1v1h-1zM111 511h1v1h-1zM112 511h1v1h-1zM113 510h1v1h-1zM114 510h1v1h-1zM115 510h1v1h-1zM116 509h1v1h-1zM117 510h1v1h-1zM118 510h1v1h-1zM119 511h1v1h-1zM120 512h1v1h-1zM121 513h1v1h-1zM122 513h1v1h-1zM123 514h1v1h-1zM124 515h1v1h-1zM125 515h1v1h-1zM126 515h1v1h-1zM127 516h1v1h-1zM128 516h1v1h-1zM129 516h1v1h-1zM130 516h1v1h-1zM131 516h1v1h-1zM132 516h1v1h-1zM133 516h1v1h-1zM134 516h1v1h-1zM135 516h1v1h-1zM136 516h1v1h-1zM137 516h1v1h-1zM138 516h1v1h-1zM139 516h1v1h-1zM140 516h1v1h-1zM141 516h1v1h-1zM142 516h1v1h-1zM143 515h1v1h-1zM144 515h1v1h-1zM145 515h1v1h-1zM146 515h1v1h-1zM147 514h1v1h-1zM148 514h1v1h-1zM149 514h1v1h-1zM150 515h1v1h-1zM151 515h1v1h-1zM152 516h1v1h-1zM153 516h1v1h-1zM154 517h1v1h-1zM155 517h1v1h-1zM156 518h1v1h-1zM157 518h1v1h-1zM158 519h1v1h-1zM159 519h1v1h-1zM160 519h1v1h-1zM161 520h1v1h-1zM162 520h1v1h-1zM163 520h1v1h-1zM164 521h1v1h-1zM165 521h1v1h-1zM166 522h1v1h-1zM167 522h1v1h-1zM168 522h1v1h-1zM169 523h1v1h-1zM170 523h1v1h-1zM171 524h1v1h-1zM172 524h1v1h-1zM173 523h1v1h-1zM174 523h1v1h-1zM175 522h1v1h-1zM176 521h1v1h-1zM177 521h1v1h-1zM178 520h1v1h-1zM179 520h1v1h-1zM180 519h1v1h-1zM181 519h1v1h-1zM182 519h1v1h-1zM183 519h1v1h-1zM184 519h1v1h-1zM185 519h1v1h-1zM186 519h1v1h-1zM187 519h1v1h-1zM188 519h1v1h-1zM189 519h1v1h-1zM190 519h1v1h-1zM191 519h1v1h-1zM192 519h1v1h-1zM193 518h1v1h-1zM194 518h1v1h-1zM195 518h1v1h-1zM196 518h1v1h-1zM197 518h1v1h-1zM198 519h1v1h-1zM199 519h1v1h-1zM200 520h1v1h-1zM201 520h1v1h-1zM202 520h1v1h-1zM203 521h1v1h-1zM204 521h1v1h-1zM205 521h1v1h-1zM206 522h1v1h-1zM207 522h1v1h-1zM208 522h1v1h-1zM209 522h1v1h-1zM210 523h1v1h-1zM211 523h1v1h-1zM212 523h1v1h-1zM213 523h1v1h-1zM214 523h1v1h-1zM215 523h1v1h-1zM216 523h1v1h-1zM217 523h1v1h-1zM218 522h1v1h-1zM219 522h1v1h-1zM220 522h1v1h-1zM221 522h1v1h-1zM222 523h1v1h-1zM223 523h1v1h-1zM224 524h1v1h-1zM225 524h1v1h-1zM226 524h1v1h-1zM227 525h1v1h-1zM228 525h1v1h-1zM229 525h1v1h-1zM230 525h1v1h-1zM231 525h1v1h-1zM232 525h1v1h-1zM233 525h1v1h-1zM234 525h1v1h-1zM235 525h1v1h-1zM236 525h1v1h-1zM237 525h1v1h-1zM238 525h1v1h-1zM239 525h1v1h-1zM240 525h1v1h-1zM241 525h1v1h-1zM242 525h1v1h-1zM243 525h1v1h-1zM244 525h1v1h-1zM245 525h1v1h-1zM246 525h1v1h-1zM247 526h1v1h-1zM248 526h1v1h-1zM249 526h1v1h-1zM250 526h1v1h-1zM251 526h1v1h-1zM252 526h1v1h-1zM253 526h1v1h-1zM254 526h1v1h-1zM255 526h1v1h-1zM256 527h1v1h-1zM257 527h1v1h-1zM258 527h1v1h-1zM259 527h1v1h-1zM260 527h1v1h-1zM261 527h1v1h-1zM262 528h1v1h-1zM263 528h1v1h-1zM264 528h1v1h-1zM265 528h1v1h-1zM266 529h1v1h-1zM267 529h1v1h-1zM268 529h1v1h-1zM269 530h1v1h-1zM270 530h1v1h-1zM271 530h1v1h-1zM272 531h1v1h-1zM273 531h1v1h-1zM274 532h1v1h-1zM275 532h1v1h-1zM276 532h1v1h-1zM277 532h1v1h-1zM278 531h1v1h-1zM279 531h1v1h-1zM280 530h1v1h-1zM281 530h1v1h-1zM282 529h1v1h-1zM283 528h1v1h-1zM284 528h1v1h-1zM285 528h1v1h-1zM286 528h1v1h-1zM287 528h1v1h-1zM288 528h1v1h-1zM289 528h1v1h-1zM290 528h1v1h-1zM291 528h1v1h-1zM292 528h1v1h-1zM293 528h1v1h-1zM294 528h1v1h-1zM295 529h1v1h-1zM296 529h1v1h-1zM297 529h1v1h-1zM298 529h1v1h-1zM299 529h1v1h-1zM300 530h1v1h-1zM301 530h1v1h-1zM302 530h1v1h-1zM303 530h1v1h-1zM304 530h1v1h-1zM305 530h1v1h-1zM306 530h1v1h-1zM307 531h1v1h-1zM308 531h1v1h-1zM309 531h1v1h-1zM310 531h1v1h-1zM311 531h1v1h-1zM312 531h1v1h-1zM313 531h1v1h-1zM314 531h1v1h-1zM315 532h1v1h-1zM316 532h1v1h-1zM317 532h1v1h-1zM318 532h1v1h-1zM319 533h1v1h-1zM320 533h1v1h-1zM321 534h1v1h-1zM322 534h1v1h-1zM323 535h1v1h-1zM324 535h1v1h-1zM325 535h1v1h-1zM326 535h1v1h-1zM327 534h1v1h-1zM328 534h1v1h-1zM329 534h1v1h-1zM330 533h1v1h-1zM331 533h1v1h-1zM332 533h1v1h-1zM333 532h1v1h-1zM334 532h1v1h-1zM335 532h1v1h-1zM336 531h1v1h-1zM337 531h1v1h-1zM338 530h1v1h-1zM339 530h1v1h-1zM340 529h1v1h-1zM341 528h1v1h-1zM342 527h1v1h-1zM343 525h1v2h-1zM344 524h1v1h-1zM345 523h1v1h-1zM346 522h1v1h-1zM347 520h1v2h-1zM348 519h1v1h-1zM349 519h1v1h-1zM350 518h1v1h-1zM351 518h1v1h-1zM352 517h1v1h-1zM353 517h1v1h-1zM354 516h1v1h-1zM355 515h1v1h-1zM356 515h1v1h-1zM357 515h1v1h-1zM358 515h1v1h-1zM359 516h1v1h-1zM360 516h1v1h-1zM361 516h1v1h-1zM362 516h1v1h-1zM363 516h1v1h-1zM364 516h1v1h-1zM365 516h1v1h-1zM366 516h1v1h-1zM367 515h1v1h-1zM368 515h1v1h-1zM369 515h1v1h-1zM370 515h1v1h-1zM371 515h1v1h-1zM372 514h1v1h-1zM373 514h1v1h-1zM374 514h1v1h-1zM375 514h1v1h-1zM376 514h1v1h-1zM377 514h1v1h-1zM378 514h1v1h-1zM379 514h1v1h-1zM380 514h1v1h-1zM381 515h1v1h-1zM382 515h1v1h-1zM383 515h1v1h-1zM384 516h1v1h-1zM385 516h1v1h-1zM386 516h1v1h-1zM387 517h1v1h-1zM388 517h1v1h-1zM389 517h1v1h-1zM390 518h1v1h-1zM391 518h1v1h-1zM392 518h1v1h-1zM393 518h1v1h-1zM394 519h1v1h-1zM395 519h1v1h-1zM396 519h1v1h-1zM397 518h1v1h-1zM398 517h1v1h-1zM399 517h1v1h-1zM400 516h1v1h-1zM401 515h1v1h-1zM402 515h1v1h-1zM403 514h1v1h-1zM404 513h1v1h-1zM405 513h1v1h-1zM406 513h1v1h-1zM407 513h1v1h-1zM408 513h1v1h-1zM409 513h1v1h-1zM410 513h1v1h-1zM411 513h1v1h-1zM412 513h1v1h-1zM413 514h1v1h-1zM414 514h1v1h-1zM415 514h1v1h-1zM416 515h1v1h-1zM417 515h1v1h-1zM418 515h1v1h-1zM419 516h1v1h-1zM420 516h1v1h-1zM421 516h1v1h-1zM422 516h1v1h-1zM423 516h1v1h-1zM424 517h1v1h-1zM425 517h1v1h-1zM426 517h1v1h-1zM427 517h1v1h-1zM428 517h1v1h-1zM429 517h1v1h-1zM430 518h1v1h-1zM431 518h1v1h-1zM432 518h1v1h-1zM433 518h1v1h-1zM434 518h1v1h-1zM435 518h1v1h-1zM436 518h1v1h-1zM437 518h1v1h-1zM438 517h1v1h-1zM439 517h1v1h-1zM440 517h1v1h-1zM441 516h1v1h-1zM442 516h1v1h-1zM443 515h1v1h-1zM444 514h1v1h-1zM445 514h1v1h-1zM446 513h1v1h-1zM447 512h1v1h-1zM448 512h1v1h-1zM449 511h1v1h-1zM450 510h1v1h-1zM451 510h1v1h-1zM452 509h1v1h-1zM453 509h1v1h-1zM454 509h1v1h-1zM455 508h1v1h-1zM456 508h1v1h-1zM457 508h1v1h-1zM458 507h1v1h-1zM459 507h1v1h-1zM460 507h1v1h-1zM461 507h1v1h-1zM462 507h1v1h-1zM463 507h1v1h-1zM464 507h1v1h-1zM465 508h1v1h-1zM466 508h1v1h-1zM467 508h1v1h-1zM468 508h1v1h-1zM469 508h1v1h-1zM470 508h1v1h-1zM471 508h1v1h-1zM472 508h1v1h-1zM473 508h1v1h-1zM474 508h1v1h-1zM475 507h1v1h-1zM476 507h1v1h-1zM477 507h1v1h-1zM478 507h1v1h-1zM479 507h1v1h-1zM480 507h1v1h-1zM481 507h1v1h-1zM482 507h1v1h-1zM483 507h1v1h-1zM484 507h1v1h-1zM485 507h1v1h-1zM486 507h1v1h-1zM487 507h1v1h-1zM488 507h1v1h-1zM489 507h1v1h-1zM490 507h1v1h-1zM491 507h1v1h-1zM492 507h1v1h-1zM493 507h1v1h-1zM494 507h1v1h-1zM495 506h1v1h-1zM496 506h1v1h-1zM497 506h1v1h-1zM498 506h1v1h-1zM499 505h1v1h-1zM500 505h1v1h-1zM501 505h1v1h-1zM502 505h1v1h-1zM503 506h1v1h-1zM504 506h1v1h-1zM505 506h1v1h-1zM506 506h1v1h-1zM507 506h1v1h-1zM508 506h1v1h-1zM509 506h1v1h-1zM510 506h1v1h-1zM511 505h1v1h-1zM512 505h1v1h-1zM513 505h1v1h-1zM514 505h1v1h-1zM515 504h1v1h-1zM516 504h1v1h-1zM517 504h1v1h-1zM518 504h1v1h-1zM519 505h1v1h-1zM520 505h1v1h-1zM521 505h1v1h-1zM522 505h1v1h-1zM523 505h1v1h-1zM524 505h1v1h-1zM525 506h1v1h-1zM526 507h1v1h-1zM527 508h1v1h-1zM528 509h1v1h-1zM529 510h1v2h-1zM530 512h1v1h-1zM531 513h1v1h-1zM532 514h1v1h-1zM533 513h1v1h-1zM534 513h1v1h-1zM535 512h1v1h-1zM536 512h1v1h-1zM537 511h1v1h-1zM538 510h1v1h-1zM539 510h1v1h-1zM540 509h1v1h-1zM541 510h1v1h-1zM542 510h1v1h-1zM543 510h1v1h-1zM544 510h1v1h-1zM545 510h1v1h-1zM546 511h1v1h-1zM547 511h1v1h-1zM548 511h1v1h-1zM549 512h1v1h-1zM550 512h1v1h-1zM551 513h1v1h-1zM552 514h1v1h-1zM553 515h1v1h-1zM554 515h1v1h-1zM555 516h1v1h-1zM556 517h1v1h-1zM557 517h1v1h-1zM558 516h1v1h-1zM559 516h1v1h-1zM560 516h1v1h-1zM561 515h1v1h-1zM562 515h1v1h-1zM563 515h1v1h-1zM564 514h1v1h-1zM565 514h1v1h-1zM566 515h1v1h-1zM567 515h1v1h-1zM568 515h1v1h-1zM569 515h1v1h-1zM570 515h1v1h-1zM571 515h1v1h-1zM572 515h1v1h-1zM573 515h1v1h-1zM574 515h1v1h-1zM575 515h1v1h-1zM576 515h1v1h-1zM577 515h1v1h-1zM578 515h1v1h-1zM579 515h1v1h-1zM580 515h1v1h-1zM581 515h1v1h-1zM582 515h1v1h-1zM583 514h1v1h-1zM584 514h1v1h-1zM585 514h1v1h-1zM586 513h1v1h-1zM587 513h1v1h-1zM588 512h1v1h-1zM589 511h1v1h-1zM590 510h1v1h-1zM591 509h1v1h-1zM592 509h1v1h-1zM593 508h1v1h-1zM594 507h1v1h-1zM595 506h1v1h-1zM596 505h1v1h-1zM597 505h1v1h-1zM598 505h1v1h-1zM599 505h1v1h-1zM600 505h1v1h-1zM601 505h1v1h-1zM602 505h1v1h-1zM603 505h1v1h-1zM604 505h1v1h-1zM605 506h1v1h-1zM606 507h1v1h-1zM607 508h1v1h-1zM608 509h1v1h-1zM609 510h1v1h-1zM610 511h1v1h-1zM611 512h1v1h-1zM612 513h1v1h-1zM613 513h1v1h-1zM614 513h1v1h-1zM615 513h1v1h-1zM616 513h1v1h-1zM617 513h1v1h-1zM618 512h1v1h-1zM619 512h1v1h-1zM620 512h1v1h-1zM621 512h1v1h-1zM622 512h1v1h-1zM623 513h1v1h-1zM624 513h1v1h-1zM625 513h1v1h-1zM626 513h1v1h-1zM627 513h1v1h-1zM628 513h1v1h-1zM629 514h1v1h-1zM630 514h1v1h-1zM631 514h1v1h-1zM632 514h1v1h-1zM633 515h1v1h-1zM634 515h1v1h-1zM635 515h1v1h-1zM636 515h1v1h-1zM637 515h1v1h-1zM638 514h1v1h-1zM639 514h1v1h-1zM640 514h1v1h-1zM641 513h1v1h-1zM642 513h1v1h-1zM643 512h1v1h-1zM644 512h1v1h-1zM645 512h1v1h-1zM646 512h1v1h-1zM647 512h1v1h-1zM648 512h1v1h-1zM649 512h1v1h-1zM650 512h1v1h-1zM651 512h1v1h-1zM652 512h1v1h-1zM653 512h1v1h-1zM654 513h1v1h-1zM655 513h1v1h-1zM656 514h1v1h-1zM657 515h1v1h-1zM658 515h1v1h-1zM659 516h1v1h-1zM660 516h1v1h-1zM661 516h1v1h-1zM662 516h1v1h-1zM663 516h1v1h-1zM664 516h1v1h-1zM665 516h1v1h-1zM666 516h1v1h-1zM667 515h1v1h-1zM668 515h1v1h-1zM669 516h1v1h-1zM670 516h1v1h-1zM671 516h1v1h-1zM672 517h1v1h-1zM673 517h1v1h-1zM674 517h1v1h-1zM675 518h1v1h-1zM676 518h1v1h-1zM677 518h1v1h-1zM678 518h1v1h-1zM679 518h1v1h-1zM680 518h1v1h-1zM681 517h1v1h-1zM682 517h1v1h-1zM683 517h1v1h-1zM684 517h1v1h-1zM685 517h1v1h-1zM686 518h1v1h-1zM687 518h1v1h-1zM688 519h1v1h-1zM689 519h1v1h-1zM690 520h1v1h-1zM691 520h1v1h-1zM692 520h1v1h-1zM693 521h1v1h-1zM694 522h1v1h-1zM695 522h1v1h-1zM696 523h1v1h-1zM697 524h1v1h-1zM698 524h1v1h-1zM699 525h1v1h-1zM700 525h1v1h-1zM701 526h1v1h-1zM702 526h1v1h-1zM703 527h1v1h-1zM704 527h1v1h-1zM705 528h1v1h-1zM706 528h1v1h-1zM707 529h1v1h-1zM708 529h1v1h-1zM709 529h1v1h-1zM710 529h1v1h-1zM711 529h1v1h-1zM712 528h1v1h-1zM713 528h1v1h-1zM714 528h1v1h-1zM715 527h1v1h-1zM716 527h1v1h-1zM717 526h1v1h-1zM718 525h1v1h-1zM719 524h1v1h-1zM720 522h1v2h-1zM721 521h1v1h-1zM722 520h1v1h-1zM723 519h1v1h-1zM724 518h1v1h-1zM725 518h1v1h-1zM726 517h1v1h-1zM727 517h1v1h-1zM728 516h1v1h-1zM729 516h1v1h-1zM730 515h1v1h-1zM731 515h1v1h-1zM732 514h1v1h-1zM733 514h1v1h-1zM734 515h1v1h-1zM735 515h1v1h-1zM736 515h1v1h-1zM737 515h1v1h-1zM738 515h1v1h-1zM739 515h1v1h-1zM740 516h1v1h-1zM741 515h1v1h-1zM742 515h1v1h-1zM743 515h1v1h-1zM744 514h1v1h-1zM745 514h1v1h-1zM746 514h1v1h-1zM747 514h1v1h-1zM748 513h1v1h-1zM749 514h1v1h-1zM750 514h1v1h-1zM751 515h1v1h-1zM752 516h1v1h-1zM753 516h1v1h-1zM754 517h1v1h-1zM755 518h1v1h-1zM756 518h1v1h-1zM757 518h1v1h-1zM758 518h1v1h-1zM759 518h1v1h-1zM760 518h1v1h-1zM761 518h1v1h-1zM762 518h1v1h-1zM763 517h1v1h-1zM764 517h1v1h-1zM765 517h1v1h-1zM766 516h1v1h-1zM767 516h1v1h-1zM768 515h1v1h-1zM769 515h1v1h-1zM770 514h1v1h-1zM771 514h1v1h-1zM772 514h1v1h-1zM773 514h1v1h-1zM774 513h1v1h-1zM775 513h1v1h-1zM776 513h1v1h-1zM777 513h1v1h-1zM778 513h1v1h-1zM779 512h1v1h-1zM780 512h1v1h-1zM781 512h1v1h-1zM782 511h1v1h-1zM783 511h1v1h-1zM784 511h1v1h-1zM785 510h1v1h-1zM786 510h1v1h-1zM787 510h1v1h-1zM788 509h1v1h-1zM789 509h1v1h-1zM790 510h1v1h-1zM791 510h1v1h-1zM792 510h1v1h-1zM793 510h1v1h-1zM794 510h1v1h-1zM795 511h1v1h-1zM796 511h1v1h-1zM797 511h1v1h-1zM798 511h1v1h-1zM799 512h1v1h-1zM800 512h1v1h-1zM801 513h1v1h-1zM802 513h1v1h-1zM803 514h1v1h-1zM804 514h1v1h-1zM805 514h1v1h-1zM806 514h1v1h-1zM807 514h1v1h-1zM808 513h1v1h-1zM809 513h1v1h-1zM810 513h1v1h-1zM811 513h1v1h-1zM812 512h1v1h-1zM813 512h1v1h-1zM814 513h1v1h-1zM815 513h1v1h-1zM816 513h1v1h-1zM817 513h1v1h-1zM818 513h1v1h-1zM819 513h1v1h-1zM820 513h1v1h-1zM821 513h1v1h-1zM822 513h1v1h-1zM823 513h1v1h-1zM824 513h1v1h-1zM825 513h1v1h-1zM826 513h1v1h-1zM827 512h1v1h-1zM828 512h1v1h-1zM829 512h1v1h-1zM830 511h1v1h-1zM831 511h1v1h-1zM832 510h1v1h-1zM833 510h1v1h-1zM834 509h1v1h-1zM835 509h1v1h-1zM836 508h1v1h-1zM837 508h1v1h-1zM838 509h1v1h-1zM839 509h1v1h-1zM840 509h1v1h-1zM841 509h1v1h-1zM842 509h1v1h-1zM843 509h1v1h-1zM844 509h1v1h-1zM845 509h1v1h-1zM846 509h1v1h-1zM847 509h1v1h-1zM848 509h1v1h-1zM849 509h1v1h-1zM850 509h1v1h-1zM851 509h1v1h-1zM852 509h1v1h-1zM853 509h1v1h-1zM854 510h1v1h-1zM855 510h1v1h-1zM856 510h1v1h-1zM857 510h1v1h-1zM858 510h1v1h-1zM859 510h1v1h-1zM860 510h1v1h-1zM861 510h1v1h-1zM862 510h1v1h-1zM863 510h1v1h-1zM864 510h1v1h-1zM865 510h1v1h-1zM866 510h1v1h-1zM867 509h1v1h-1zM868 509h1v1h-1zM869 509h1v1h-1zM870 508h1v1h-1zM871 508h1v1h-1zM872 507h1v1h-1zM873 507h1v1h-1zM874 506h1v1h-1zM875 506h1v1h-1zM876 505h1v1h-1zM877 505h1v1h-1zM878 505h1v1h-1zM879 505h1v1h-1zM880 505h1v1h-1zM881 505h1v1h-1zM882 505h1v1h-1zM883 505h1v1h-1zM884 505h1v1h-1zM885 506h1v1h-1zM886 507h1v1h-1zM887 508h1v1h-1zM888 509h1v1h-1zM889 510h1v1h-1zM890 511h1v1h-1zM891 512h1v1h-1zM892 513h1v1h-1zM893 512h1v1h-1zM894 511h1v1h-1zM895 511h1v1h-1zM896 510h1v1h-1zM897 509h1v1h-1zM898 508h1v1h-1zM899 508h1v1h-1zM900 507h1v1h-1zM901 507h1v1h-1zM902 508h1v1h-1zM903 509h1v1h-1zM904 509h1v1h-1zM905 510h1v1h-1zM906 510h1v1h-1zM907 511h1v1h-1zM908 511h1v1h-1zM909 511h1v1h-1zM910 510h1v1h-1zM911 510h1v1h-1zM912 509h1v1h-1zM913 509h1v1h-1zM914 508h1v1h-1zM915 507h1v1h-1zM916 507h1v1h-1z" fill="#1e90ff"/>
</svg>
<!-- chart title -->
<div style="left:7px;top:31px;width:0;height:0;border-left:3.5px solid transparent;border-right:3.5px solid transparent;border-bottom:4px solid #000"></div>
<div class="ax" style="left:19.5px;top:27px;letter-spacing:-0.06px">AUDUSD-,Daily</div>
<div class="ax" style="left:93.5px;top:27px;letter-spacing:-0.29px">0.71834 0.72667 0.71669 0.72641</div>
<div class="ax" style="left:8px;top:409px;letter-spacing:-0.23px">MACD(12,26,9) 0.002066 0.001275</div>
<div class="ax" style="left:8px;top:480px;letter-spacing:-0.23px">RSI(14) 59.7635</div>
<!-- trade panel -->
<div style="left:5px;top:43px;width:223px;height:60px;background:#fff"></div>
<div style="left:7px;top:44px;width:52px;height:25px;background:linear-gradient(#5656f2,#3a3ad8)"></div>
<div style="left:174px;top:44px;width:52px;height:25px;background:linear-gradient(#5656f2,#3a3ad8)"></div>
<div style="left:7px;top:68px;width:109px;height:33px;background:linear-gradient(#3434d4,#0202b4)"></div>
<div style="left:118px;top:68px;width:108px;height:33px;background:linear-gradient(#3434d4,#0202b4)"></div>
<div style="left:11px;top:67px;width:44px;height:1px;background:#8c8cec"></div>
<div style="left:178px;top:67px;width:44px;height:1px;background:#8c8cec"></div>
<div style="left:59px;top:44px;width:115px;height:24px;background:#fff"></div>
<div style="left:116px;top:66px;width:2px;height:35px;background:#fff"></div>
<div style="left:61px;top:44px;width:111px;height:22px;background:#fff;border:1px solid #c8c8c8"></div>
<div style="left:63px;top:46px;width:19px;height:18px;background:linear-gradient(#ececec,#c4c4c4);border:1px solid #b8b8b8"></div>
<div style="left:151px;top:46px;width:19px;height:18px;background:linear-gradient(#ececec,#c4c4c4);border:1px solid #b8b8b8"></div>
<div style="left:68.5px;top:53px;width:0;height:0;border-left:3px solid transparent;border-right:3px solid transparent;border-top:3px solid #5a6ac8"></div>
<div style="left:157.5px;top:52px;width:0;height:0;border-left:3px solid transparent;border-right:3px solid transparent;border-bottom:3px solid #5a6ac8"></div>
<div style="left:123px;top:47px;font-size:12px;line-height:16px;color:#000">1.00</div>
<div style="left:20px;top:49px;font-size:10.5px;line-height:15px;color:#fff">SELL</div>
<div style="left:188px;top:49px;font-size:10.5px;line-height:15px;color:#fff">BUY</div>
<div style="left:27.5px;top:84px;font-size:10.5px;font-weight:bold;line-height:14px;color:#fff;letter-spacing:0.8px">0.72</div>
<div style="left:137.5px;top:84px;font-size:10.5px;font-weight:bold;line-height:14px;color:#fff;letter-spacing:0.8px">0.72</div>
<div style="left:54.5px;top:64.5px;font-size:33px;line-height:36px;color:#fff;letter-spacing:-1px">64</div>
<div style="left:165.5px;top:64.5px;font-size:33px;line-height:36px;color:#fff;letter-spacing:-1px">66</div>
<div style="left:94px;top:69px;font-size:12px;font-weight:bold;line-height:14px;color:#fff">1</div>
<div style="left:205px;top:69px;font-size:12px;font-weight:bold;line-height:14px;color:#fff">4</div>
<!-- axis -->
<div class="ax" style="left:1172px;top:32px">0.75640</div>
<div class="ax" style="left:1172px;top:65px">0.75100</div>
<div class="ax" style="left:1172px;top:98px">0.74545</div>
<div class="ax" style="left:1172px;top:164px">0.73435</div>
<div class="ax" style="left:1172px;top:197px">0.72880</div>
<div class="ax" style="left:1172px;top:230px">0.72325</div>
<div class="ax" style="left:1172px;top:263px">0.71770</div>
<div class="ax" style="left:1172px;top:296px">0.71215</div>
<div class="ax" style="left:1172px;top:329px">0.70660</div>
<div class="ax" style="left:1172px;top:362px">0.70120</div>
<div class="ax" style="left:1170px;top:407px">0.006201</div>
<div class="ax" style="left:1170px;top:428px">0.00</div>
<div class="ax" style="left:1170px;top:462px">-0.009197</div>
<div class="ax" style="left:1170px;top:478px">100</div>
<div class="ax" style="left:1170px;top:493px">70</div>
<div class="ax" style="left:1170px;top:521px">30</div>
<div class="ax" style="left:1170px;top:536px">0</div>
<div class="tag" style="top:211px;background:#000;height:11px"><span>0.72641</span></div>
<div class="tag" style="top:39px;background:#f00;height:11px"><span>0.75512</span></div>
<div class="tag" style="top:129px;background:#f00;height:11px"><span>0.74002</span></div>
<div class="tag" style="top:218px;background:#f00;height:11px"><span>0.72513</span></div>
<div class="tag" style="top:307px;background:#0f0;height:11px"><span>0.71013</span></div>
<div class="tag" style="top:396px;background:#00f;height:11px"><span>0.69520</span></div>
<div class="ax" style="left:3px;top:552px;letter-spacing:-0.26px">18 Oct 2021</div>
<div class="ax" style="left:67px;top:552px;letter-spacing:-0.36px">27 Oct 2021</div>
<div class="ax" style="left:131px;top:552px;letter-spacing:-0.29px">5 Nov 2021</div>
<div class="ax" style="left:195px;top:552px;letter-spacing:-0.12px">15 Nov 2021</div>
<div class="ax" style="left:259px;top:552px;letter-spacing:-0.3px">24 Nov 2021</div>
<div class="ax" style="left:323px;top:552px;letter-spacing:-0.4px">3 Dec 2021</div>
<div class="ax" style="left:387px;top:552px;letter-spacing:-0.38px">13 Dec 2021</div>
<div class="ax" style="left:451px;top:552px;letter-spacing:-0.47px">22 Dec 2021</div>
<div class="ax" style="left:515px;top:552px;letter-spacing:-0.46px">31 Dec 2021</div>
<div class="ax" style="left:579px;top:552px;letter-spacing:-0.34px">10 Jan 2022</div>
<div class="ax" style="left:643px;top:552px;letter-spacing:-0.34px">19 Jan 2022</div>
<div class="ax" style="left:707px;top:552px;letter-spacing:-0.53px">28 Jan 2022</div>
<div class="ax" style="left:771px;top:552px;letter-spacing:-0.4px">7 Feb 2022</div>
<div class="ax" style="left:835px;top:552px;letter-spacing:-0.34px">16 Feb 2022</div>
<div class="ax" style="left:899px;top:552px;letter-spacing:-0.5px">25 Feb 2022</div>

<!-- tab bar -->
<div style="left:0;top:569px;width:1207px;height:1px;background:#e6e6e6"></div>
<div style="left:0;top:571px;width:1207px;height:1px;background:#000"></div>
<div style="left:0;top:572px;width:1207px;height:1px;background:#fcfcfc"></div>
<div style="left:0;top:573px;width:1207px;height:18px;background:#f0f0f0"></div>
<div style="left:0;top:572px;width:1px;height:18px;background:#585858"></div>
<div style="left:1px;top:572px;width:1px;height:18px;background:#fafafa"></div>
<div style="left:0;top:591px;width:1207px;height:1px;background:#fff"></div>
<div style="left:0;top:592px;width:1207px;height:2px;background:#f0f0f0"></div>
<div style="left:0;top:594px;width:1207px;height:1px;background:#fafafa"></div>
<div style="left:0;top:595px;width:1207px;height:1px;background:#a0a0a0"></div>
<div style="left:213px;top:571px;width:108px;height:19px;background:#fff;border:1px solid #000;border-top:none"></div>
<div class="tab" style="left:223px;color:#000;letter-spacing:-0.08px">AUDUSD-,Daily</div>
<div class="tab" style="left:16.5px;letter-spacing:-0.1px">USDX,Weekly</div><div class="sep" style="left:105px"></div><div class="tab" style="left:115.5px;letter-spacing:-0.2px">EURUSD-,Daily</div><div class="tab" style="left:332.5px;letter-spacing:-0.2px">USDCHF-,Daily</div><div class="sep" style="left:429px"></div><div class="tab" style="left:440.5px;letter-spacing:-0.2px">USDCAD-,Daily</div><div class="sep" style="left:537px"></div><div class="tab" style="left:548.5px;letter-spacing:0.0px">USDCNH-,Daily</div><div class="sep" style="left:649px"></div><div class="tab" style="left:660px;letter-spacing:0.03px">XAUUSD-,M5</div><div class="sep" style="left:749px"></div><div class="tab" style="left:759.5px;letter-spacing:0.1px">UKOil-,Daily</div><div class="sep" style="left:841px"></div><div class="tab" style="left:852.5px;letter-spacing:0.04px">DJ30-,Daily</div><div class="sep" style="left:929px"></div><div class="tab" style="left:939.5px;letter-spacing:0.05px">UK100-,H1</div><div class="sep" style="left:1013px"></div>

<div style="left:1182px;top:577px;width:0;height:0;border-top:3.5px solid transparent;border-bottom:3.5px solid transparent;border-right:4px solid #a0a0a0"></div>
<div style="left:1201px;top:577px;width:0;height:0;border-top:3.5px solid transparent;border-bottom:3.5px solid transparent;border-left:4px solid #a0a0a0"></div>
</body></html>
